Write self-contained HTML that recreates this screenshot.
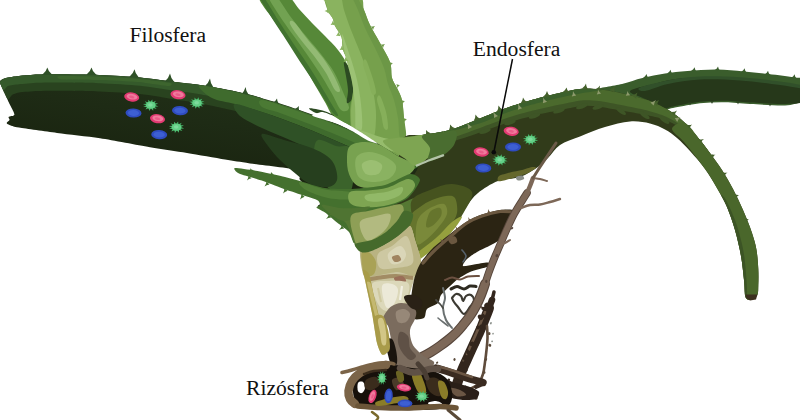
<!DOCTYPE html>
<html lang="es"><head><meta charset="utf-8"><title>Filosfera, Endosfera, Rizósfera</title>
<style>
html,body{margin:0;padding:0;background:#fff;}
body{width:800px;height:420px;overflow:hidden;position:relative;}
svg{display:block;position:absolute;left:0;top:0;}
.lbl{position:absolute;font-family:"Liberation Serif",serif;font-size:21.6px;line-height:22px;color:#111;white-space:nowrap;}
</style></head><body>
<svg width="800" height="420" viewBox="0 0 800 420">
<defs>
<linearGradient id="gl" gradientUnits="userSpaceOnUse" x1="150" y1="75" x2="138" y2="150"><stop offset="0" stop-color="#213017"/><stop offset="0.5" stop-color="#1e2b15"/><stop offset="1" stop-color="#1b2611"/></linearGradient>
</defs>

<path d="M596.0 90.0 C597.2 87.7 614.2 86.0 622.0 84.0 C629.8 82.0 635.3 79.7 642.5 78.0 C649.7 76.3 657.5 74.8 665.0 73.6 C672.5 72.4 678.9 71.7 687.5 71.0 C696.1 70.3 707.4 69.5 716.8 69.6 C726.2 69.7 735.2 70.7 743.8 71.4 C752.4 72.1 760.0 73.0 768.6 74.0 C777.2 75.0 789.4 76.7 795.6 77.6 C801.8 78.5 804.3 75.4 806.0 79.5 C807.7 83.6 807.0 98.2 806.0 102.0 C805.0 105.8 803.5 101.9 800.0 102.5 C796.5 103.1 793.3 105.2 785.0 105.5 C776.7 105.8 760.0 104.5 750.0 104.0 C740.0 103.5 733.3 102.4 725.0 102.3 C716.7 102.2 708.3 102.4 700.0 103.3 C691.7 104.2 681.7 106.4 675.0 107.5 C668.3 108.6 665.8 110.9 660.0 110.0 C654.2 109.1 647.5 104.0 640.0 102.0 C632.5 100.0 622.3 100.0 615.0 98.0 C607.7 96.0 594.8 92.3 596.0 90.0Z" fill="#3a5d2c" />
<path d="M630.0 91.0 C631.5 88.5 646.3 86.0 654.0 84.0 C661.7 82.0 666.7 80.1 676.0 79.0 C685.3 77.9 698.7 77.6 710.0 77.5 C721.3 77.4 732.7 77.4 744.0 78.5 C755.3 79.6 767.7 82.2 778.0 84.0 C788.3 85.8 801.3 86.2 806.0 89.0 C810.7 91.8 809.5 98.5 806.0 101.0 C802.5 103.5 794.3 103.8 785.0 104.0 C775.7 104.2 760.0 103.0 750.0 102.5 C740.0 102.0 733.3 100.9 725.0 100.8 C716.7 100.7 708.3 100.9 700.0 101.8 C691.7 102.7 681.5 104.9 675.0 106.0 C668.5 107.1 666.0 109.7 661.0 108.5 C656.0 107.3 650.2 101.9 645.0 99.0 C639.8 96.1 628.5 93.5 630.0 91.0Z" fill="#26381a" />
<path d="M640.0 87.5 C644.2 85.7 660.0 81.8 670.0 80.0 C680.0 78.2 688.3 77.0 700.0 76.5 C711.7 76.0 726.7 76.5 740.0 77.3 C753.3 78.1 769.0 80.0 780.0 81.5 C791.0 83.0 801.7 84.8 806.0 86.0 C810.3 87.2 810.3 89.2 806.0 89.0 C801.7 88.8 791.0 86.4 780.0 85.0 C769.0 83.6 753.3 81.4 740.0 80.5 C726.7 79.6 712.0 78.9 700.0 79.5 C688.0 80.1 677.2 82.1 668.0 84.0 C658.8 85.9 649.7 90.4 645.0 91.0 C640.3 91.6 635.8 89.3 640.0 87.5Z" fill="#31502a" />
<path d="M649.0 78.7 Q646.7 76.3 646.5 74.1 Q645.8 76.1 643.0 77.9 Z" fill="#3a5d2c"/>
<path d="M673.0 74.4 Q670.7 72.0 670.5 69.8 Q669.8 71.8 667.0 73.6 Z" fill="#3a5d2c"/>
<path d="M697.0 71.9 Q694.7 69.5 694.5 67.3 Q693.8 69.3 691.0 71.1 Z" fill="#3a5d2c"/>
<path d="M720.5 71.1 Q718.2 68.7 718.0 66.5 Q717.3 68.5 714.5 70.3 Z" fill="#3a5d2c"/>
<path d="M747.0 72.9 Q744.7 70.5 744.5 68.3 Q743.8 70.3 741.0 72.1 Z" fill="#3a5d2c"/>
<path d="M770.5 75.4 Q768.2 73.0 768.0 70.8 Q767.3 72.8 764.5 74.6 Z" fill="#3a5d2c"/>
<path d="M797.0 78.9 Q794.7 76.5 794.5 74.3 Q793.8 76.3 791.0 78.1 Z" fill="#3a5d2c"/>
<path d="M688.0 102.5 Q689.7 104.0 690.0 105.5 Q690.3 104.0 692.0 102.5 Z" fill="#2d4422"/>
<path d="M710.0 101.0 Q711.7 102.5 712.0 104.0 Q712.3 102.5 714.0 101.0 Z" fill="#2d4422"/>
<path d="M736.0 101.5 Q737.7 103.0 738.0 104.5 Q738.3 103.0 740.0 101.5 Z" fill="#2d4422"/>
<path d="M768.0 103.5 Q769.7 105.0 770.0 106.5 Q770.3 105.0 772.0 103.5 Z" fill="#2d4422"/>
<path d="M259.0 -4.0 C257.1 0.3 269.8 14.0 275.0 22.0 C280.2 30.0 285.2 36.7 290.0 44.0 C294.8 51.3 299.8 59.0 304.0 66.0 C308.2 73.0 311.9 79.8 315.5 86.0 C319.1 92.2 322.8 98.2 325.5 103.0 C328.2 107.8 329.6 112.1 332.0 115.0 C334.4 117.9 336.7 118.5 340.0 120.5 C343.3 122.5 347.5 124.4 352.0 127.0 C356.5 129.6 362.8 133.3 367.0 136.0 C371.2 138.7 372.8 145.7 377.0 143.0 C381.2 140.3 394.8 127.2 392.0 120.0 C389.2 112.8 366.5 105.7 360.0 100.0 C353.5 94.3 355.0 91.7 353.0 86.0 C351.0 80.3 350.5 72.0 348.0 66.0 C345.5 60.0 341.8 55.0 338.0 50.0 C334.2 45.0 329.3 40.5 325.0 36.0 C320.7 31.5 316.3 27.5 312.0 23.0 C307.7 18.5 303.2 13.5 299.0 9.0 C294.8 4.5 293.2 -1.8 286.5 -4.0 C279.8 -6.2 260.9 -8.3 259.0 -4.0Z" fill="#568838" />
<path d="M263.0 -4.0 C266.2 0.0 273.0 12.2 278.0 20.0 C283.0 27.8 288.0 35.5 293.0 43.0 C298.0 50.5 303.3 57.8 308.0 65.0 C312.7 72.2 317.2 79.7 321.0 86.0 C324.8 92.3 328.2 98.2 331.0 103.0 C333.8 107.8 337.7 113.3 338.0 115.0 C338.3 116.7 335.5 116.0 333.0 113.0 C330.5 110.0 326.7 102.8 323.0 97.0 C319.3 91.2 315.3 84.7 311.0 78.0 C306.7 71.3 301.7 64.2 297.0 57.0 C292.3 49.8 287.8 42.5 283.0 35.0 C278.2 27.5 272.0 18.5 268.0 12.0 C264.0 5.5 259.8 -1.3 259.0 -4.0 C258.2 -6.7 259.8 -8.0 263.0 -4.0Z" fill="#41722f" />
<path d="M276.0 -4.0 C279.7 -0.7 285.0 9.3 290.0 16.0 C295.0 22.7 300.8 29.7 306.0 36.0 C311.2 42.3 316.3 48.0 321.0 54.0 C325.7 60.0 330.3 65.7 334.0 72.0 C337.7 78.3 340.5 86.0 343.0 92.0 C345.5 98.0 349.3 105.0 349.0 108.0 C348.7 111.0 344.0 112.7 341.0 110.0 C338.0 107.3 334.7 98.3 331.0 92.0 C327.3 85.7 323.2 78.5 319.0 72.0 C314.8 65.5 310.3 59.2 306.0 53.0 C301.7 46.8 297.5 41.3 293.0 35.0 C288.5 28.7 283.2 21.5 279.0 15.0 C274.8 8.5 268.5 -0.8 268.0 -4.0 C267.5 -7.2 272.3 -7.3 276.0 -4.0Z" fill="#72a252" />
<path d="M294.0 22.0 C297.0 24.7 303.2 34.0 308.0 40.0 C312.8 46.0 318.8 52.3 323.0 58.0 C327.2 63.7 330.2 68.7 333.0 74.0 C335.8 79.3 339.7 87.3 340.0 90.0 C340.3 92.7 337.3 92.8 335.0 90.0 C332.7 87.2 329.5 78.7 326.0 73.0 C322.5 67.3 318.2 61.5 314.0 56.0 C309.8 50.5 305.0 45.3 301.0 40.0 C297.0 34.7 291.2 27.0 290.0 24.0 C288.8 21.0 291.0 19.3 294.0 22.0Z" fill="#93ba74" />
<path d="M344.0 62.0 C344.8 61.0 349.2 66.3 351.0 70.0 C352.8 73.7 354.1 79.5 354.5 84.0 C354.9 88.5 354.8 93.8 353.5 97.0 C352.2 100.2 347.9 104.2 347.0 103.0 C346.1 101.8 348.2 94.5 348.0 90.0 C347.8 85.5 346.7 80.7 346.0 76.0 C345.3 71.3 343.2 63.0 344.0 62.0Z" fill="#2c4a22" />
<path d="M309.0 108.5 C309.3 107.9 315.0 108.9 318.0 109.5 C321.0 110.1 324.3 111.0 327.0 112.0 C329.7 113.0 334.2 115.0 334.0 115.5 C333.8 116.0 329.0 115.4 326.0 115.0 C323.0 114.6 318.8 114.1 316.0 113.0 C313.2 111.9 308.7 109.1 309.0 108.5Z" fill="#2c4a22" />
<path d="M327.0 -4.0 C321.8 -1.7 326.6 6.3 327.5 10.0 C328.4 13.7 331.2 15.3 332.5 18.0 C333.8 20.7 333.5 22.8 335.0 26.0 C336.5 29.2 340.2 33.0 341.5 37.0 C342.8 41.0 341.8 45.8 343.0 50.0 C344.2 54.2 347.0 57.7 348.5 62.0 C350.0 66.3 351.2 71.0 352.0 76.0 C352.8 81.0 353.3 86.3 353.0 92.0 C352.7 97.7 350.2 102.8 350.0 110.0 C349.8 117.2 350.3 126.7 352.0 135.0 C353.7 143.3 354.5 154.5 360.0 160.0 C365.5 165.5 376.3 168.0 385.0 168.0 C393.7 168.0 408.5 165.3 412.0 160.0 C415.5 154.7 407.3 143.0 406.0 136.0 C404.7 129.0 404.7 124.0 404.0 118.0 C403.3 112.0 403.2 105.0 402.0 100.0 C400.8 95.0 398.7 91.7 397.0 88.0 C395.3 84.3 393.2 82.3 392.0 78.0 C390.8 73.7 392.0 67.8 390.0 62.0 C388.0 56.2 383.3 49.2 380.0 43.0 C376.7 36.8 372.7 30.5 370.0 25.0 C367.3 19.5 365.8 14.8 364.0 10.0 C362.2 5.2 365.2 -1.7 359.0 -4.0 C352.8 -6.3 332.2 -6.3 327.0 -4.0Z" fill="#76a04c" />
<path d="M327.0 -4.0 C324.9 -1.7 326.6 6.3 327.5 10.0 C328.4 13.7 331.2 15.3 332.5 18.0 C333.8 20.7 333.5 22.8 335.0 26.0 C336.5 29.2 340.2 33.0 341.5 37.0 C342.8 41.0 341.8 45.8 343.0 50.0 C344.2 54.2 347.0 57.7 348.5 62.0 C350.0 66.3 351.2 71.0 352.0 76.0 C352.8 81.0 353.2 86.0 353.0 92.0 C352.8 98.0 350.8 104.7 351.0 112.0 C351.2 119.3 350.5 131.3 354.0 136.0 C357.5 140.7 368.3 143.0 372.0 140.0 C375.7 137.0 375.7 125.3 376.0 118.0 C376.3 110.7 375.3 103.3 374.0 96.0 C372.7 88.7 370.3 81.3 368.0 74.0 C365.7 66.7 362.8 59.3 360.0 52.0 C357.2 44.7 353.7 37.0 351.0 30.0 C348.3 23.0 345.8 15.7 344.0 10.0 C342.2 4.3 342.8 -1.7 340.0 -4.0 C337.2 -6.3 329.1 -6.3 327.0 -4.0Z" fill="#8ab35f" />
<path d="M342.0 34.0 C342.7 33.7 347.5 48.3 350.0 56.0 C352.5 63.7 355.2 72.0 357.0 80.0 C358.8 88.0 360.2 96.0 361.0 104.0 C361.8 112.0 362.8 123.3 362.0 128.0 C361.2 132.7 357.2 135.7 356.0 132.0 C354.8 128.3 355.7 114.3 355.0 106.0 C354.3 97.7 353.5 90.0 352.0 82.0 C350.5 74.0 347.7 66.0 346.0 58.0 C344.3 50.0 341.3 34.3 342.0 34.0Z" fill="#9cc274" />
<path d="M356.0 -4.0 C358.0 -1.7 361.7 5.2 364.0 10.0 C366.3 14.8 367.3 19.5 370.0 25.0 C372.7 30.5 376.7 36.8 380.0 43.0 C383.3 49.2 388.0 56.2 390.0 62.0 C392.0 67.8 390.8 73.7 392.0 78.0 C393.2 82.3 395.3 84.3 397.0 88.0 C398.7 91.7 400.8 95.0 402.0 100.0 C403.2 105.0 403.3 112.0 404.0 118.0 C404.7 124.0 406.7 132.7 406.0 136.0 C405.3 139.3 401.3 141.0 400.0 138.0 C398.7 135.0 399.0 124.3 398.0 118.0 C397.0 111.7 395.7 105.7 394.0 100.0 C392.3 94.3 389.7 89.3 388.0 84.0 C386.3 78.7 386.2 74.0 384.0 68.0 C381.8 62.0 378.2 54.7 375.0 48.0 C371.8 41.3 367.8 34.3 365.0 28.0 C362.2 21.7 360.2 15.3 358.0 10.0 C355.8 4.7 352.3 -1.7 352.0 -4.0 C351.7 -6.3 354.0 -6.3 356.0 -4.0Z" fill="#6c9746" />
<path d="M366.0 60.0 C367.5 62.0 370.3 70.7 372.0 76.0 C373.7 81.3 376.0 89.0 376.0 92.0 C376.0 95.0 373.3 96.0 372.0 94.0 C370.7 92.0 369.5 85.0 368.0 80.0 C366.5 75.0 363.3 67.3 363.0 64.0 C362.7 60.7 364.5 58.0 366.0 60.0Z" fill="#86af5a" />
<path d="M380.0 96.0 C381.5 98.0 384.7 106.7 386.0 112.0 C387.3 117.3 388.3 125.3 388.0 128.0 C387.7 130.7 385.2 130.3 384.0 128.0 C382.8 125.7 382.2 118.7 381.0 114.0 C379.8 109.3 377.2 103.0 377.0 100.0 C376.8 97.0 378.5 94.0 380.0 96.0Z" fill="#86af5a" />
<path d="M328.6 -0.2 Q325.7 0.7 323.5 0.0 Q325.3 1.3 326.4 4.2 Z" fill="#8ab35f"/>
<path d="M328.5 8.5 Q326.5 10.6 324.5 11.0 Q326.5 11.4 328.5 13.5 Z" fill="#8ab35f"/>
<path d="M332.8 20.8 Q332.1 23.7 330.5 25.0 Q332.4 24.3 335.2 25.2 Z" fill="#8ab35f"/>
<path d="M338.3 31.8 Q337.6 34.7 336.0 36.0 Q337.9 35.3 340.7 36.2 Z" fill="#8ab35f"/>
<path d="M341.8 45.8 Q341.1 48.7 339.5 50.0 Q341.4 49.3 344.2 50.2 Z" fill="#8ab35f"/>
<path d="M345.4 57.1 Q345.0 60.2 343.5 62.0 Q345.5 60.8 348.6 60.9 Z" fill="#8ab35f"/>
<path d="M373.1 29.7 Q373.7 27.2 375.0 26.0 Q373.3 26.8 370.9 26.3 Z" fill="#6c9746"/>
<path d="M383.1 47.7 Q383.7 45.2 385.0 44.0 Q383.3 44.8 380.9 44.3 Z" fill="#6c9746"/>
<path d="M390.6 65.9 Q391.6 63.8 393.0 63.0 Q391.4 63.2 389.4 62.1 Z" fill="#6c9746"/>
<path d="M397.6 87.9 Q398.6 85.8 400.0 85.0 Q398.4 85.2 396.4 84.1 Z" fill="#6c9746"/>
<path d="M402.6 103.9 Q403.6 101.8 405.0 101.0 Q403.4 101.2 401.4 100.1 Z" fill="#6c9746"/>
<path d="M404.6 121.9 Q405.6 119.8 407.0 119.0 Q405.4 119.2 403.4 118.1 Z" fill="#6c9746"/>
<path d="M352.0 128.0 C352.7 126.7 360.7 130.3 366.0 132.0 C371.3 133.7 378.7 136.7 384.0 138.0 C389.3 139.3 394.3 140.0 398.0 140.0 C401.7 140.0 404.3 136.3 406.0 138.0 C407.7 139.7 409.7 147.7 408.0 150.0 C406.3 152.3 401.0 152.7 396.0 152.0 C391.0 151.3 383.7 148.0 378.0 146.0 C372.3 144.0 366.3 143.0 362.0 140.0 C357.7 137.0 351.3 129.3 352.0 128.0Z" fill="#96bc6c" />
<path d="M404.0 137.5 C408.0 133.3 414.3 136.2 422.0 135.0 C429.7 133.8 440.3 132.8 450.0 130.0 C459.7 127.2 470.8 122.1 480.0 118.5 C489.2 114.9 496.7 111.5 505.0 108.5 C513.3 105.5 521.7 102.9 530.0 100.5 C538.3 98.1 546.7 95.9 555.0 94.0 C563.3 92.1 572.5 89.8 580.0 89.0 C587.5 88.2 592.5 88.7 600.0 89.5 C607.5 90.3 616.7 92.1 625.0 94.0 C633.3 95.9 642.5 98.2 650.0 101.0 C657.5 103.8 664.2 107.3 670.0 111.0 C675.8 114.7 680.0 118.2 685.0 123.0 C690.0 127.8 695.8 135.0 700.0 140.0 C704.2 145.0 706.3 148.0 710.0 153.0 C713.7 158.0 718.2 164.0 722.0 170.0 C725.8 176.0 729.5 182.3 733.0 189.0 C736.5 195.7 739.8 202.7 743.0 210.0 C746.2 217.3 749.8 226.3 752.0 233.0 C754.2 239.7 755.5 244.0 756.5 250.0 C757.5 256.0 758.0 263.2 758.3 269.0 C758.6 274.8 758.5 280.7 758.3 285.0 C758.1 289.3 758.5 292.5 757.3 295.0 C756.1 297.5 753.0 299.7 751.0 300.0 C749.0 300.3 746.7 300.3 745.5 297.0 C744.3 293.7 744.8 286.8 744.0 280.0 C743.2 273.2 742.5 264.3 741.0 256.0 C739.5 247.7 737.3 238.2 735.0 230.0 C732.7 221.8 730.0 214.0 727.0 207.0 C724.0 200.0 720.7 194.3 717.0 188.0 C713.3 181.7 709.5 175.2 705.0 169.0 C700.5 162.8 694.7 156.2 690.0 151.0 C685.3 145.8 681.2 141.6 677.0 138.0 C672.8 134.4 669.5 131.9 665.0 129.5 C660.5 127.1 655.8 124.8 650.0 123.5 C644.2 122.2 637.5 120.9 630.0 121.5 C622.5 122.1 613.3 124.5 605.0 127.0 C596.7 129.5 587.5 133.5 580.0 136.5 C572.5 139.5 565.3 141.4 560.0 145.0 C554.7 148.6 551.7 154.3 548.0 158.0 C544.3 161.7 542.7 163.8 538.0 167.0 C533.3 170.2 526.7 174.7 520.0 177.0 C513.3 179.3 505.0 178.3 498.0 181.0 C491.0 183.7 483.3 188.7 478.0 193.0 C472.7 197.3 469.3 202.5 466.0 207.0 C462.7 211.5 461.5 215.3 458.0 220.0 C454.5 224.7 449.7 230.0 445.0 235.0 C440.3 240.0 435.3 245.3 430.0 250.0 C424.7 254.7 418.8 261.0 413.0 263.0 C407.2 265.0 399.7 267.5 395.0 262.0 C390.3 256.5 385.8 242.0 385.0 230.0 C384.2 218.0 387.8 201.7 390.0 190.0 C392.2 178.3 395.7 168.8 398.0 160.0 C400.3 151.2 400.0 141.7 404.0 137.5Z" fill="#313b1a" />
<path d="M404.0 137.5 C406.2 135.9 415.9 136.0 422.0 135.0 C428.1 134.0 442.3 132.2 450.0 130.0 C457.7 127.8 472.7 121.4 480.0 118.5 C487.3 115.6 498.3 110.9 505.0 108.5 C511.7 106.1 523.3 102.4 530.0 100.5 C536.7 98.6 548.3 95.5 555.0 94.0 C561.7 92.5 574.0 89.6 580.0 89.0 C586.0 88.4 594.0 88.8 600.0 89.5 C606.0 90.2 618.3 92.5 625.0 94.0 C631.7 95.5 644.0 98.7 650.0 101.0 C656.0 103.3 665.3 108.1 670.0 111.0 C674.7 113.9 681.0 119.1 685.0 123.0 C689.0 126.9 696.4 135.6 700.0 140.0 C703.6 144.4 710.5 153.8 712.0 156.0 C713.5 158.2 713.4 158.3 711.5 156.4 C709.5 154.6 701.5 146.0 697.4 142.2 C693.2 138.4 684.6 130.9 680.3 127.9 C675.9 124.9 669.3 121.4 664.6 119.6 C659.8 117.9 650.6 116.0 644.8 114.8 C639.0 113.6 627.4 111.7 621.2 110.6 C615.0 109.4 603.4 107.0 598.1 106.4 C592.9 105.8 586.9 105.4 581.7 105.9 C576.4 106.4 565.1 109.1 558.8 110.3 C552.4 111.6 540.8 113.9 534.3 115.4 C527.8 117.0 516.5 119.9 509.8 122.0 C503.2 124.0 492.3 128.1 484.8 130.7 C477.2 133.2 461.3 139.2 453.2 141.2 C445.0 143.1 430.0 144.4 423.6 145.1 C417.3 145.8 407.9 147.8 405.3 146.8 C402.7 145.7 401.8 139.1 404.0 137.5Z" fill="#3e5526" />
<path d="M404.0 137.5 C406.3 136.3 415.9 136.0 422.0 135.0 C428.1 134.0 442.3 132.2 450.0 130.0 C457.7 127.8 472.7 121.4 480.0 118.5 C487.3 115.6 498.3 110.9 505.0 108.5 C511.7 106.1 523.3 102.4 530.0 100.5 C536.7 98.6 548.3 95.5 555.0 94.0 C561.7 92.5 574.0 89.6 580.0 89.0 C586.0 88.4 594.0 88.8 600.0 89.5 C606.0 90.2 618.3 92.5 625.0 94.0 C631.7 95.5 644.0 98.7 650.0 101.0 C656.0 103.3 665.3 108.1 670.0 111.0 C674.7 113.9 681.0 119.1 685.0 123.0 C689.0 126.9 696.4 135.6 700.0 140.0 C703.6 144.4 710.4 153.8 712.0 156.0 C713.6 158.2 713.5 158.2 711.6 156.3 C709.8 154.3 702.2 145.5 698.2 141.5 C694.2 137.5 686.1 129.6 681.8 126.3 C677.6 123.0 671.0 119.0 666.3 116.8 C661.6 114.7 652.3 111.9 646.5 110.3 C640.6 108.8 628.8 106.5 622.4 105.2 C616.1 104.0 604.2 101.6 598.7 100.9 C593.2 100.3 586.6 99.9 581.1 100.4 C575.7 101.0 564.0 103.7 557.5 105.0 C551.1 106.4 539.5 108.9 532.9 110.6 C526.4 112.3 514.9 115.5 508.3 117.6 C501.6 119.8 490.7 124.1 483.2 126.7 C475.7 129.4 460.2 135.5 452.1 137.6 C444.1 139.6 429.4 141.0 423.1 141.8 C416.8 142.7 407.4 144.3 404.9 143.8 C402.3 143.2 401.7 138.7 404.0 137.5Z" fill="#4b6a2d" />
<path d="M404.0 137.5 C406.4 137.2 415.9 136.0 422.0 135.0 C428.1 134.0 442.3 132.2 450.0 130.0 C457.7 127.8 472.7 121.4 480.0 118.5 C487.3 115.6 498.3 110.9 505.0 108.5 C511.7 106.1 523.3 102.4 530.0 100.5 C536.7 98.6 548.3 95.5 555.0 94.0 C561.7 92.5 574.0 89.6 580.0 89.0 C586.0 88.4 597.3 89.3 600.0 89.5 C602.7 89.7 602.5 90.1 599.9 90.6 C597.3 91.1 586.3 92.4 580.4 93.5 C574.6 94.5 562.6 96.9 556.0 98.4 C549.4 99.9 537.9 102.9 531.3 104.8 C524.7 106.7 513.1 110.4 506.5 112.7 C499.9 115.1 489.1 120.2 481.6 122.7 C474.1 125.1 458.3 129.4 450.3 131.1 C442.4 132.7 428.2 134.1 422.0 135.0 C415.8 135.9 406.4 137.2 404.0 137.5 C401.6 137.8 401.6 137.8 404.0 137.5Z" fill="#3b602c" />
<ellipse cx="484.8" cy="131.2" rx="6" ry="2.2" fill="#3e5526" transform="rotate(-18 484.8 130.7)"/>
<ellipse cx="509.8" cy="122.5" rx="6" ry="2.2" fill="#3e5526" transform="rotate(-18 509.8 122.0)"/>
<ellipse cx="534.3" cy="115.9" rx="6" ry="2.2" fill="#3e5526" transform="rotate(-18 534.3 115.4)"/>
<ellipse cx="558.8" cy="110.8" rx="6" ry="2.2" fill="#3e5526" transform="rotate(-18 558.8 110.3)"/>
<ellipse cx="581.7" cy="106.4" rx="6" ry="2.2" fill="#3e5526" transform="rotate(-18 581.7 105.9)"/>
<ellipse cx="598.1" cy="106.9" rx="6" ry="2.2" fill="#3e5526" transform="rotate(-18 598.1 106.4)"/>
<ellipse cx="621.2" cy="111.1" rx="6" ry="2.2" fill="#3e5526" transform="rotate(35 621.2 110.6)"/>
<ellipse cx="644.8" cy="115.3" rx="6" ry="2.2" fill="#3e5526" transform="rotate(35 644.8 114.8)"/>
<ellipse cx="664.6" cy="120.1" rx="6" ry="2.2" fill="#3e5526" transform="rotate(35 664.6 119.6)"/>
<ellipse cx="680.3" cy="128.4" rx="6" ry="2.2" fill="#3e5526" transform="rotate(35 680.3 127.9)"/>
<path d="M685.0 123.0 C689.7 124.8 695.5 134.5 700.0 140.0 C704.5 145.5 708.3 151.0 712.0 156.0 C715.7 161.0 718.5 164.5 722.0 170.0 C725.5 175.5 729.5 182.3 733.0 189.0 C736.5 195.7 739.8 202.7 743.0 210.0 C746.2 217.3 749.8 226.3 752.0 233.0 C754.2 239.7 755.5 244.0 756.5 250.0 C757.5 256.0 758.0 263.2 758.3 269.0 C758.6 274.8 758.5 280.7 758.3 285.0 C758.1 289.3 758.5 292.5 757.3 295.0 C756.1 297.5 753.0 299.7 751.0 300.0 C749.0 300.3 746.7 300.3 745.5 297.0 C744.3 293.7 744.8 286.8 744.0 280.0 C743.2 273.2 742.5 264.3 741.0 256.0 C739.5 247.7 737.3 238.2 735.0 230.0 C732.7 221.8 729.8 213.7 727.0 207.0 C724.2 200.3 721.2 195.7 718.0 190.0 C714.8 184.3 711.7 178.5 708.0 173.0 C704.3 167.5 700.0 162.2 696.0 157.0 C692.0 151.8 688.0 146.7 684.0 142.0 C680.0 137.3 671.8 132.2 672.0 129.0 C672.2 125.8 680.3 121.2 685.0 123.0Z" fill="#4a672b" />
<path d="M726.0 200.0 C728.3 204.2 732.5 213.3 735.0 220.0 C737.5 226.7 739.4 233.7 741.0 240.0 C742.6 246.3 743.6 251.3 744.5 258.0 C745.4 264.7 746.1 274.0 746.5 280.0 C746.9 286.0 747.2 291.2 747.0 294.0 C746.8 296.8 746.0 299.3 745.5 297.0 C745.0 294.7 744.8 286.8 744.0 280.0 C743.2 273.2 742.5 264.3 741.0 256.0 C739.5 247.7 737.3 238.2 735.0 230.0 C732.7 221.8 729.3 212.8 727.0 207.0 C724.7 201.2 721.2 196.2 721.0 195.0 C720.8 193.8 723.7 195.8 726.0 200.0Z" fill="#3c5425" />
<polygon points="745.5,294.5 757.4,294.5 756.0,299.5 750.0,300.6 746.0,298.0" fill="#3b2f1e" />
<path d="M430.7 133.3 Q427.4 132.1 426.0 130.0 Q426.6 132.4 425.3 135.7 Z" fill="#44602b"/>
<path d="M455.2 128.2 Q451.5 126.8 450.0 124.5 Q450.5 127.2 448.8 130.8 Z" fill="#44602b"/>
<path d="M480.4 119.1 Q476.8 117.1 475.5 114.5 Q475.7 117.4 473.6 120.9 Z" fill="#44602b"/>
<path d="M503.4 110.1 Q499.8 108.1 498.5 105.5 Q498.7 108.4 496.6 111.9 Z" fill="#44602b"/>
<path d="M527.4 102.4 Q524.0 100.2 523.0 97.5 Q523.0 100.3 520.6 103.6 Z" fill="#44602b"/>
<path d="M550.5 96.5 Q547.5 93.8 547.0 91.0 Q546.5 93.8 543.5 96.5 Z" fill="#44602b"/>
<path d="M569.5 92.8 Q566.8 90.1 566.5 87.5 Q565.7 89.9 562.5 92.2 Z" fill="#44602b"/>
<path d="M588.0 89.5 Q585.9 86.3 586.0 83.5 Q585.1 86.2 582.0 88.5 Z" fill="#44602b"/>
<path d="M600.3 91.0 Q599.3 87.9 600.0 85.5 Q598.7 87.6 595.7 89.0 Z" fill="#44602b"/>
<path d="M614.6 92.5 Q613.9 88.7 615.0 86.0 Q613.1 88.3 609.4 89.5 Z" fill="#44602b"/>
<path d="M636.4 98.8 Q636.1 95.0 637.5 92.5 Q635.4 94.5 631.6 95.2 Z" fill="#44602b"/>
<path d="M657.1 106.1 Q657.3 102.3 659.0 100.0 Q656.7 101.7 652.9 101.9 Z" fill="#44602b"/>
<path d="M674.6 115.9 Q675.2 112.5 677.0 110.5 Q674.8 112.0 671.4 112.1 Z" fill="#44602b"/>
<path d="M689.3 129.1 Q690.2 126.1 692.0 124.5 Q689.8 125.4 686.7 124.9 Z" fill="#44602b"/>
<path d="M700.9 142.8 Q702.1 140.3 704.0 139.0 Q701.9 139.7 699.1 139.2 Z" fill="#44602b"/>
<path d="M712.8 157.8 Q713.9 155.5 715.5 154.5 Q713.6 155.0 711.2 154.2 Z" fill="#44602b"/>
<path d="M724.7 175.6 Q725.9 173.5 727.5 172.5 Q725.6 173.0 723.3 172.4 Z" fill="#44602b"/>
<path d="M736.5 197.4 Q737.6 195.7 739.0 195.0 Q737.4 195.3 735.5 194.6 Z" fill="#44602b"/>
<path d="M746.3 221.5 Q747.6 219.9 749.0 219.3 Q747.4 219.4 745.7 218.5 Z" fill="#44602b"/>
<path d="M447.9 134.8 Q444.8 133.3 443.0 131.0 Q444.2 133.7 444.1 137.2 Z" fill="#8d9a6c"/>
<path d="M472.0 126.9 Q468.8 125.1 467.0 122.5 Q468.2 125.4 468.0 129.1 Z" fill="#8d9a6c"/>
<path d="M498.0 115.9 Q494.8 114.1 493.0 111.5 Q494.2 114.4 494.0 118.1 Z" fill="#8d9a6c"/>
<path d="M522.1 108.2 Q519.3 106.1 518.0 103.5 Q518.7 106.4 517.9 109.8 Z" fill="#8d9a6c"/>
<path d="M547.1 101.7 Q544.3 99.9 543.0 97.5 Q543.7 100.1 542.9 103.3 Z" fill="#8d9a6c"/>
<path d="M576.2 95.6 Q573.8 93.4 573.0 91.0 Q573.2 93.6 571.8 96.4 Z" fill="#8d9a6c"/>
<path d="M601.2 93.5 Q598.8 91.7 598.0 89.5 Q598.2 91.8 596.8 94.5 Z" fill="#8d9a6c"/>
<path d="M630.2 95.3 Q628.1 93.2 627.5 91.0 Q627.4 93.3 625.8 95.7 Z" fill="#8d9a6c"/>
<path d="M653.6 105.6 Q654.2 102.2 656.0 100.0 Q653.8 101.8 650.4 102.4 Z" fill="#8d9a6c"/>
<path d="M677.2 121.9 Q678.4 118.8 680.5 117.0 Q678.1 118.2 674.8 118.1 Z" fill="#8d9a6c"/>
<path d="M499.0 176.0 C500.6 174.9 506.9 173.3 510.0 172.5 C513.1 171.7 519.1 170.7 522.0 170.0 C524.9 169.3 530.1 167.3 532.0 167.0 C533.9 166.7 536.5 167.2 536.0 168.0 C535.5 168.8 530.7 171.8 528.0 173.0 C525.3 174.2 519.2 176.0 516.0 177.0 C512.8 178.0 506.4 180.0 504.0 180.5 C501.6 181.0 498.7 181.6 498.0 181.0 C497.3 180.4 497.4 177.1 499.0 176.0Z" fill="#65682c" />
<path d="M516.0 177.0 C516.7 176.2 520.7 175.2 522.0 175.5 C523.3 175.8 524.7 178.2 524.0 179.0 C523.3 179.8 519.3 180.8 518.0 180.5 C516.7 180.2 515.3 177.8 516.0 177.0Z" fill="#8a8f88" />
<path d="M0.0 82.0 C0.3 80.3 3.5 78.8 6.0 78.0 C8.5 77.2 14.7 76.5 19.0 76.0 C23.3 75.5 32.5 74.7 38.0 74.5 C43.5 74.3 51.7 74.2 60.0 74.3 C68.3 74.4 89.3 74.6 100.0 75.0 C110.7 75.4 130.0 76.6 140.0 77.5 C150.0 78.4 167.0 81.0 175.0 82.0 C183.0 83.0 191.6 83.7 200.0 85.0 C208.4 86.3 228.0 89.7 238.0 92.0 C248.0 94.3 266.1 99.3 275.0 102.0 C283.9 104.7 296.3 108.9 305.0 112.0 C313.7 115.1 330.7 121.0 340.0 125.0 C349.3 129.0 367.3 137.9 375.0 142.0 C382.7 146.1 392.3 152.8 398.0 156.0 C403.7 159.2 417.1 162.1 418.0 166.0 C418.9 169.9 410.1 180.5 405.0 185.0 C399.9 189.5 387.1 196.7 380.0 200.0 C372.9 203.3 358.0 208.1 352.0 210.0 C346.0 211.9 339.5 214.4 335.0 214.0 C330.5 213.6 319.7 208.9 318.0 207.0 C316.3 205.1 324.4 203.6 322.0 200.0 C319.6 196.4 302.9 183.9 300.0 180.0 C297.1 176.1 306.7 172.7 300.0 170.5 C293.3 168.3 260.0 164.9 250.0 163.4 C240.0 161.9 233.4 160.9 225.0 159.5 C216.6 158.1 197.0 154.6 187.0 153.0 C177.0 151.4 161.6 149.3 150.0 147.3 C138.4 145.3 112.4 140.2 100.0 138.3 C87.6 136.4 67.8 134.4 57.0 133.0 C46.2 131.6 25.1 128.6 19.0 127.6 C12.9 126.6 13.0 126.3 11.4 125.7 C9.8 125.1 7.0 124.0 6.7 123.2 C6.4 122.4 9.2 120.8 9.5 120.0 C9.8 119.2 8.0 117.7 8.6 117.0 C9.2 116.3 13.8 116.0 14.3 115.0 C14.8 114.0 13.2 111.2 12.4 109.5 C11.6 107.8 9.7 104.5 8.6 102.0 C7.5 99.5 4.9 93.2 3.8 90.5 C2.7 87.8 -0.3 83.7 0.0 82.0Z" fill="url(#gl)" />
<path d="M0.0 82.0 C-0.2 79.5 3.8 78.7 6.0 78.0 C8.2 77.3 15.3 76.4 19.0 76.0 C22.7 75.6 33.2 74.7 38.0 74.5 C42.8 74.3 52.8 74.2 60.0 74.3 C67.2 74.4 90.7 74.6 100.0 75.0 C109.3 75.4 131.2 76.7 140.0 77.5 C148.8 78.3 168.0 81.1 175.0 82.0 C182.0 82.9 192.7 83.8 200.0 85.0 C207.3 86.2 230.8 90.4 238.0 92.0 C245.2 93.6 258.3 96.4 262.0 98.5 C265.7 100.6 268.8 107.0 270.0 110.0 C271.2 113.0 272.9 122.9 272.0 124.0 C271.1 125.1 266.0 120.5 262.0 119.0 C258.0 117.6 245.2 113.5 238.0 111.7 C230.8 109.8 207.3 104.7 200.0 103.3 C192.7 101.9 182.0 100.5 175.0 99.4 C168.0 98.3 148.8 94.9 140.0 94.0 C131.2 93.1 109.3 91.9 100.0 91.5 C90.7 91.1 67.2 90.9 60.0 90.8 C52.8 90.7 42.8 90.8 38.0 91.0 C33.2 91.2 22.0 92.0 19.0 92.5 C16.0 93.0 13.3 94.2 12.0 95.0 C10.7 95.8 8.9 100.5 7.5 99.0 C6.1 97.5 0.2 84.5 0.0 82.0Z" fill="#29431f" />
<path d="M0.0 82.0 C0.3 80.6 3.8 78.7 6.0 78.0 C8.2 77.3 15.3 76.4 19.0 76.0 C22.7 75.6 33.2 74.7 38.0 74.5 C42.8 74.3 52.8 74.2 60.0 74.3 C67.2 74.4 90.7 74.6 100.0 75.0 C109.3 75.4 131.2 76.7 140.0 77.5 C148.8 78.3 168.0 81.1 175.0 82.0 C182.0 82.9 192.7 83.8 200.0 85.0 C207.3 86.2 230.8 90.4 238.0 92.0 C245.2 93.6 258.5 96.9 262.0 98.5 C265.5 100.1 268.0 104.8 268.0 106.0 C268.0 107.2 265.5 109.3 262.0 108.8 C258.5 108.3 245.2 103.6 238.0 101.9 C230.8 100.2 207.3 95.5 200.0 94.2 C192.7 92.9 182.0 91.7 175.0 90.8 C168.0 89.8 148.8 86.7 140.0 85.8 C131.2 84.9 109.3 83.7 100.0 83.3 C90.7 82.9 67.2 82.7 60.0 82.6 C52.8 82.5 42.8 82.6 38.0 82.8 C33.2 83.0 22.5 83.9 19.0 84.3 C15.5 84.7 9.8 85.3 8.0 86.0 C6.2 86.7 4.5 90.5 3.6 90.0 C2.7 89.5 -0.3 83.4 0.0 82.0Z" fill="#355a2b" />
<path d="M60.0 76.0 C64.4 75.7 90.7 76.2 100.0 76.5 C109.3 76.8 131.8 78.2 140.0 79.0 C148.2 79.8 166.7 82.2 170.0 83.0 C173.3 83.8 171.7 86.1 168.0 86.0 C164.3 85.9 145.9 82.7 138.0 82.0 C130.1 81.3 108.9 80.3 100.0 80.0 C91.1 79.7 66.7 80.0 62.0 79.5 C57.3 79.0 55.6 76.3 60.0 76.0Z" fill="#3d652e" />
<path d="M52.5 75.0 Q48.1 71.2 47.3 67.4 Q46.5 71.2 42.0 75.0 Z" fill="#2f5127"/>
<path d="M96.5 75.1 Q92.2 71.2 91.5 67.4 Q90.6 71.2 86.1 74.9 Z" fill="#2f5127"/>
<path d="M139.0 77.8 Q135.0 73.4 134.5 69.3 Q133.5 73.4 129.0 77.2 Z" fill="#2f5127"/>
<path d="M174.5 82.3 Q170.5 77.8 170.0 73.5 Q169.0 77.7 164.5 81.7 Z" fill="#2f5127"/>
<path d="M213.5 87.5 Q210.2 82.8 210.0 78.5 Q208.8 82.7 204.5 86.5 Z" fill="#2f5127"/>
<path d="M249.0 95.2 Q245.8 91.0 245.5 87.0 Q244.7 91.0 241.0 94.8 Z" fill="#2f5127"/>
<path d="M278.9 103.7 Q276.9 100.8 277.0 98.5 Q276.1 100.7 273.1 102.3 Z" fill="#2f5127"/>
<path d="M299.2 111.1 Q298.3 108.2 299.0 106.0 Q297.7 107.8 294.8 108.9 Z" fill="#2f5127"/>
<path d="M200.0 85.5 C204.3 84.6 225.5 89.7 238.0 92.5 C250.5 95.3 263.8 99.2 275.0 102.5 C286.2 105.8 294.2 108.7 305.0 112.5 C315.8 116.3 328.3 120.5 340.0 125.5 C351.7 130.5 365.3 137.3 375.0 142.5 C384.7 147.7 390.8 152.6 398.0 156.5 C405.2 160.4 417.0 163.8 418.0 166.0 C419.0 168.2 410.3 171.0 404.0 170.0 C397.7 169.0 389.0 163.8 380.0 160.0 C371.0 156.2 360.0 151.3 350.0 147.0 C340.0 142.7 330.0 138.2 320.0 134.0 C310.0 129.8 299.7 125.7 290.0 122.0 C280.3 118.3 271.2 115.0 262.0 112.0 C252.8 109.0 243.3 106.3 235.0 104.0 C226.7 101.7 217.8 101.1 212.0 98.0 C206.2 94.9 195.7 86.4 200.0 85.5Z" fill="#3f6b2d" />
<path d="M262.0 100.0 C266.7 100.2 280.3 105.3 290.0 108.5 C299.7 111.7 310.0 115.2 320.0 119.0 C330.0 122.8 340.3 126.7 350.0 131.0 C359.7 135.3 370.0 140.7 378.0 145.0 C386.0 149.3 396.8 155.2 398.0 157.0 C399.2 158.8 391.3 158.0 385.0 156.0 C378.7 154.0 368.8 148.8 360.0 145.0 C351.2 141.2 341.3 136.8 332.0 133.0 C322.7 129.2 312.7 125.3 304.0 122.0 C295.3 118.7 287.0 115.5 280.0 113.0 C273.0 110.5 265.0 109.2 262.0 107.0 C259.0 104.8 257.3 99.8 262.0 100.0Z" fill="#4b7a34" />
<path d="M235.0 104.0 C238.7 103.3 252.8 109.0 262.0 112.0 C271.2 115.0 280.3 118.3 290.0 122.0 C299.7 125.7 310.0 129.8 320.0 134.0 C330.0 138.2 340.0 142.7 350.0 147.0 C360.0 151.3 371.0 156.2 380.0 160.0 C389.0 163.8 402.0 166.3 404.0 170.0 C406.0 173.7 398.0 180.7 392.0 182.0 C386.0 183.3 376.3 180.7 368.0 178.0 C359.7 175.3 350.7 170.3 342.0 166.0 C333.3 161.7 324.7 156.3 316.0 152.0 C307.3 147.7 299.0 144.0 290.0 140.0 C281.0 136.0 270.3 132.0 262.0 128.0 C253.7 124.0 244.5 120.0 240.0 116.0 C235.5 112.0 231.3 104.7 235.0 104.0Z" fill="#2f5126" />
<path d="M322.0 112.0 C324.0 112.0 330.2 114.5 332.0 115.3 C333.8 116.1 338.0 119.1 340.0 120.3 C342.0 121.5 349.3 125.2 352.0 126.8 C354.7 128.4 364.4 134.5 367.0 136.2 C369.6 137.9 377.5 143.0 377.5 143.4 C377.5 143.8 369.9 141.4 367.4 140.2 C364.8 139.0 355.1 132.7 352.0 131.0 C348.9 129.3 339.4 124.5 336.4 123.3 C333.4 122.1 324.4 119.7 322.0 118.9 C319.6 118.1 312.0 116.2 312.0 115.5 C312.0 114.8 320.0 112.0 322.0 112.0Z" fill="#ffffff" />
<path d="M318.0 140.0 C321.7 138.7 330.3 144.3 336.0 146.0 C341.7 147.7 349.3 143.0 352.0 150.0 C354.7 157.0 354.3 181.2 352.0 188.0 C349.7 194.8 342.3 191.3 338.0 191.0 C333.7 190.7 329.3 189.5 326.0 186.0 C322.7 182.5 320.0 175.3 318.0 170.0 C316.0 164.7 314.0 159.0 314.0 154.0 C314.0 149.0 314.3 141.3 318.0 140.0Z" fill="#3b632b" />
<path d="M262.0 134.0 C264.7 133.0 276.7 138.0 284.0 140.0 C291.3 142.0 299.3 143.7 306.0 146.0 C312.7 148.3 319.3 151.0 324.0 154.0 C328.7 157.0 331.8 159.7 334.0 164.0 C336.2 168.3 338.0 176.2 337.0 180.0 C336.0 183.8 332.5 186.3 328.0 187.0 C323.5 187.7 315.3 186.2 310.0 184.0 C304.7 181.8 301.0 178.0 296.0 174.0 C291.0 170.0 284.7 164.7 280.0 160.0 C275.3 155.3 271.0 150.3 268.0 146.0 C265.0 141.7 259.3 135.0 262.0 134.0Z" fill="#263f1e" />
<path d="M350.0 146.0 C352.8 143.3 359.0 142.2 364.0 142.0 C369.0 141.8 374.7 142.8 380.0 145.0 C385.3 147.2 390.3 151.7 396.0 155.0 C401.7 158.3 411.7 161.8 414.0 165.0 C416.3 168.2 413.0 170.8 410.0 174.0 C407.0 177.2 401.7 181.7 396.0 184.0 C390.3 186.3 382.3 187.7 376.0 188.0 C369.7 188.3 362.5 188.3 358.0 186.0 C353.5 183.7 350.8 178.7 349.0 174.0 C347.2 169.3 346.8 162.7 347.0 158.0 C347.2 153.3 347.2 148.7 350.0 146.0Z" fill="#78a250" />
<path d="M356.0 158.0 C357.7 154.0 363.3 152.3 368.0 152.0 C372.7 151.7 379.3 153.7 384.0 156.0 C388.7 158.3 395.0 162.3 396.0 166.0 C397.0 169.7 394.0 175.3 390.0 178.0 C386.0 180.7 377.3 182.3 372.0 182.0 C366.7 181.7 360.7 180.0 358.0 176.0 C355.3 172.0 354.3 162.0 356.0 158.0Z" fill="#8ab261" />
<path d="M362.0 164.0 C363.0 161.7 368.7 159.8 372.0 160.0 C375.3 160.2 381.0 162.7 382.0 165.0 C383.0 167.3 380.7 172.5 378.0 174.0 C375.3 175.5 368.7 175.7 366.0 174.0 C363.3 172.3 361.0 166.3 362.0 164.0Z" fill="#9bbf72" />
<path d="M383.0 141.0 C383.7 139.0 391.8 138.7 396.0 138.0 C400.2 137.3 403.7 137.5 408.0 137.0 C412.3 136.5 417.3 135.3 422.0 135.0 C426.7 134.7 431.3 134.5 436.0 135.0 C440.7 135.5 449.3 135.5 450.0 138.0 C450.7 140.5 443.7 146.7 440.0 150.0 C436.3 153.3 432.0 155.3 428.0 158.0 C424.0 160.7 420.0 166.0 416.0 166.0 C412.0 166.0 408.0 160.7 404.0 158.0 C400.0 155.3 395.5 152.8 392.0 150.0 C388.5 147.2 382.3 143.0 383.0 141.0Z" fill="#7ea552" />
<path d="M422.0 136.0 C423.7 133.5 434.3 133.8 440.0 133.0 C445.7 132.2 453.7 129.0 456.0 131.0 C458.3 133.0 456.3 140.8 454.0 145.0 C451.7 149.2 446.3 153.3 442.0 156.0 C437.7 158.7 430.0 162.3 428.0 161.0 C426.0 159.7 431.0 152.2 430.0 148.0 C429.0 143.8 420.3 138.5 422.0 136.0Z" fill="#4a6d30" />
<path d="M416.0 166.0 C418.3 165.0 425.3 161.8 430.0 160.0 C434.7 158.2 441.7 155.8 444.0 155.0" fill="none" stroke="#b4c4aa" stroke-width="2.2" stroke-linecap="butt" stroke-linejoin="round" />
<path d="M235.0 168.0 C237.4 167.8 254.2 170.4 260.0 171.5 C265.8 172.6 280.3 175.9 285.0 177.0 C289.7 178.1 295.3 179.7 300.0 181.0 C304.7 182.3 318.9 187.1 325.0 188.0 C331.1 188.9 345.0 189.3 352.0 189.0 C359.0 188.7 378.2 186.8 385.0 185.0 C391.8 183.2 405.9 174.6 410.0 174.0 C414.1 173.4 420.2 177.2 420.0 180.0 C419.8 182.8 412.4 194.5 408.0 198.0 C403.6 201.5 388.1 207.0 382.0 210.0 C375.9 213.0 359.3 220.2 356.0 224.0 C352.7 227.8 354.8 242.1 354.0 243.0 C353.2 243.9 351.0 234.4 349.0 232.0 C347.0 229.6 339.8 224.8 337.0 222.5 C334.2 220.2 327.4 214.2 325.0 212.5 C322.6 210.8 317.1 208.4 316.5 207.5 C315.9 206.6 319.9 205.9 320.0 205.0 C320.1 204.1 319.8 201.4 317.0 200.0 C314.2 198.6 300.1 194.4 296.0 193.0 C291.9 191.6 286.1 189.8 282.0 188.3 C277.9 186.8 266.0 182.0 261.0 180.3 C256.0 178.6 242.0 174.9 239.0 173.5 C236.0 172.1 232.6 168.2 235.0 168.0Z" fill="#44702e" />
<path d="M300.0 182.0 C303.2 181.9 316.7 187.8 325.0 189.5 C333.3 191.2 345.8 190.4 350.0 192.0 C354.2 193.6 353.7 198.0 350.0 199.0 C346.3 200.0 335.3 199.5 328.0 198.0 C320.7 196.5 310.7 192.7 306.0 190.0 C301.3 187.3 296.8 182.1 300.0 182.0Z" fill="#527f37" />
<path d="M248.5 175.7 Q248.3 178.6 247.0 180.5 Q248.7 178.9 251.5 178.3 Z" fill="#44702e"/>
<path d="M266.6 181.6 Q266.0 184.5 264.5 186.5 Q266.5 185.0 269.4 184.4 Z" fill="#44702e"/>
<path d="M284.4 188.3 Q284.3 191.3 283.0 193.5 Q284.7 191.7 287.6 190.7 Z" fill="#44702e"/>
<path d="M301.4 194.3 Q301.3 197.3 300.0 199.5 Q301.7 197.7 304.6 196.7 Z" fill="#44702e"/>
<path d="M328.8 214.4 Q327.8 217.3 326.0 219.0 Q328.2 217.7 331.2 217.6 Z" fill="#44702e"/>
<path d="M341.8 225.4 Q340.8 228.3 339.0 230.0 Q341.2 228.7 344.2 228.6 Z" fill="#44702e"/>
<path d="M253.7 170.2 Q251.2 169.6 250.0 168.3 Q250.8 170.0 250.3 172.4 Z" fill="#44702e"/>
<path d="M273.9 174.4 Q271.8 173.4 271.0 172.0 Q271.2 173.6 270.1 175.6 Z" fill="#44702e"/>
<path d="M350.0 192.0 C353.0 189.9 361.7 191.2 368.0 190.5 C374.3 189.8 381.3 189.4 388.0 187.5 C394.7 185.6 403.5 179.2 408.0 179.0 C412.5 178.8 415.7 182.7 415.0 186.0 C414.3 189.3 409.2 195.7 404.0 199.0 C398.8 202.3 391.0 204.7 384.0 206.0 C377.0 207.3 367.7 207.5 362.0 207.0 C356.3 206.5 352.0 205.5 350.0 203.0 C348.0 200.5 347.0 194.1 350.0 192.0Z" fill="#7ea552" />
<path d="M366.0 195.0 C369.0 193.5 380.0 193.3 386.0 192.0 C392.0 190.7 399.7 186.5 402.0 187.0 C404.3 187.5 403.0 192.7 400.0 195.0 C397.0 197.3 389.3 200.0 384.0 201.0 C378.7 202.0 371.0 202.0 368.0 201.0 C365.0 200.0 363.0 196.5 366.0 195.0Z" fill="#92b968" />
<path d="M330.0 214.0 C328.3 214.8 341.2 217.7 345.0 222.0 C348.8 226.3 351.2 235.8 353.0 240.0 C354.8 244.2 354.5 245.0 356.0 247.0 C357.5 249.0 358.0 251.5 362.0 252.0 C366.0 252.5 373.7 252.7 380.0 250.0 C386.3 247.3 394.3 241.8 400.0 236.0 C405.7 230.2 411.2 221.3 414.0 215.0 C416.8 208.7 419.3 199.8 417.0 198.0 C414.7 196.2 406.2 201.8 400.0 204.0 C393.8 206.2 387.5 208.8 380.0 211.0 C372.5 213.2 363.3 216.5 355.0 217.0 C346.7 217.5 331.7 213.2 330.0 214.0Z" fill="#557833" />
<path d="M322.0 205.0 C323.3 203.8 334.3 207.5 340.0 208.0 C345.7 208.5 351.0 208.2 356.0 208.0 C361.0 207.8 370.0 205.5 370.0 207.0 C370.0 208.5 360.3 214.7 356.0 217.0 C351.7 219.3 348.0 221.3 344.0 221.0 C340.0 220.7 335.7 217.7 332.0 215.0 C328.3 212.3 320.7 206.2 322.0 205.0Z" fill="#4f7432" />
<path d="M351.0 216.0 C353.3 211.5 362.2 212.5 368.0 211.0 C373.8 209.5 380.3 208.0 386.0 207.0 C391.7 206.0 399.3 203.0 402.0 205.0 C404.7 207.0 404.0 214.3 402.0 219.0 C400.0 223.7 394.7 229.0 390.0 233.0 C385.3 237.0 379.0 240.5 374.0 243.0 C369.0 245.5 363.3 248.8 360.0 248.0 C356.7 247.2 355.5 243.3 354.0 238.0 C352.5 232.7 348.7 220.5 351.0 216.0Z" fill="#8e9f56" />
<path d="M360.0 222.0 C361.7 218.0 371.0 217.3 376.0 216.0 C381.0 214.7 388.0 212.3 390.0 214.0 C392.0 215.7 390.0 222.3 388.0 226.0 C386.0 229.7 381.7 233.7 378.0 236.0 C374.3 238.3 369.0 242.3 366.0 240.0 C363.0 237.7 358.3 226.0 360.0 222.0Z" fill="#b2ba80" />
<path d="M412.0 200.0 C415.0 195.0 423.3 192.7 430.0 190.0 C436.7 187.3 445.0 183.7 452.0 184.0 C459.0 184.3 470.0 187.3 472.0 192.0 C474.0 196.7 467.7 205.3 464.0 212.0 C460.3 218.7 455.7 226.0 450.0 232.0 C444.3 238.0 436.2 243.0 430.0 248.0 C423.8 253.0 417.3 259.7 413.0 262.0 C408.7 264.3 404.5 265.7 404.0 262.0 C403.5 258.3 408.7 247.0 410.0 240.0 C411.3 233.0 411.7 226.7 412.0 220.0 C412.3 213.3 409.0 205.0 412.0 200.0Z" fill="#46531f" />
<path d="M410.0 217.0 C412.0 211.5 416.3 209.8 420.0 207.0 C423.7 204.2 427.7 201.8 432.0 200.0 C436.3 198.2 442.2 196.3 446.0 196.0 C449.8 195.7 453.2 195.2 455.0 198.0 C456.8 200.8 457.8 208.3 457.0 213.0 C456.2 217.7 452.8 221.8 450.0 226.0 C447.2 230.2 443.8 234.0 440.0 238.0 C436.2 242.0 431.5 246.7 427.0 250.0 C422.5 253.3 416.2 259.7 413.0 258.0 C409.8 256.3 408.5 246.8 408.0 240.0 C407.5 233.2 408.0 222.5 410.0 217.0Z" fill="#66752d" />
<path d="M420.0 216.0 C422.7 212.5 428.0 209.0 432.0 207.0 C436.0 205.0 441.5 202.8 444.0 204.0 C446.5 205.2 448.0 210.0 447.0 214.0 C446.0 218.0 441.5 223.7 438.0 228.0 C434.5 232.3 429.5 237.3 426.0 240.0 C422.5 242.7 418.7 246.0 417.0 244.0 C415.3 242.0 415.5 232.7 416.0 228.0 C416.5 223.3 417.3 219.5 420.0 216.0Z" fill="#7a893a" />
<path d="M430.0 212.0 C432.3 209.0 438.2 207.3 440.0 208.0 C441.8 208.7 442.3 213.0 441.0 216.0 C439.7 219.0 434.5 224.3 432.0 226.0 C429.5 227.7 426.3 228.3 426.0 226.0 C425.7 223.7 427.7 215.0 430.0 212.0Z" fill="#66752d" />
<path d="M462.0 217.0 C461.7 219.0 455.0 228.5 450.0 234.0 C445.0 239.5 438.0 245.0 432.0 250.0 C426.0 255.0 418.3 260.7 414.0 264.0 C409.7 267.3 407.8 270.0 406.0 270.0 C404.2 270.0 401.0 267.0 403.0 264.0 C405.0 261.0 412.5 256.3 418.0 252.0 C423.5 247.7 430.3 243.0 436.0 238.0 C441.7 233.0 447.7 225.5 452.0 222.0 C456.3 218.5 462.3 215.0 462.0 217.0Z" fill="#95a03e" />
<path d="M360.0 250.0 C360.6 246.6 367.2 251.6 370.0 251.0 C372.8 250.4 380.7 246.8 384.0 245.0 C387.3 243.2 395.0 238.2 398.0 236.0 C401.0 233.8 408.0 225.5 410.0 226.0 C412.0 226.5 413.7 235.8 415.0 240.0 C416.3 244.2 421.1 257.3 421.0 262.0 C420.9 266.7 415.5 275.6 414.0 280.0 C412.5 284.4 409.1 296.3 408.0 300.0 C406.9 303.7 406.8 310.1 405.0 312.0 C403.2 313.9 395.3 313.9 393.0 316.0 C390.7 318.1 385.7 325.8 385.0 330.0 C384.3 334.2 387.4 349.1 387.0 352.0 C386.6 354.9 383.2 355.6 382.0 354.5 C380.8 353.4 378.2 347.8 377.0 343.0 C375.8 338.2 373.4 320.4 372.0 313.0 C370.6 305.6 366.4 287.4 365.0 280.0 C363.6 272.6 359.4 253.4 360.0 250.0Z" fill="#c9c49e" />
<path d="M360.0 250.0 C360.7 247.1 367.2 251.6 370.0 251.0 C372.8 250.4 380.7 246.8 384.0 245.0 C387.3 243.2 395.0 238.2 398.0 236.0 C401.0 233.8 408.0 225.5 410.0 226.0 C412.0 226.5 413.7 235.8 415.0 240.0 C416.3 244.2 421.0 257.8 421.0 262.0 C421.0 266.2 417.7 274.8 415.0 276.0 C412.3 277.2 402.1 272.1 398.0 272.0 C393.9 271.9 384.0 274.5 380.0 275.0 C376.0 275.5 366.3 278.9 364.0 276.0 C361.7 273.1 359.3 252.9 360.0 250.0Z" fill="#b9b382" />
<path d="M378.0 254.0 C380.0 250.3 387.3 249.0 392.0 246.0 C396.7 243.0 402.7 235.3 406.0 236.0 C409.3 236.7 411.0 245.3 412.0 250.0 C413.0 254.7 414.7 261.0 412.0 264.0 C409.3 267.0 401.3 267.3 396.0 268.0 C390.7 268.7 383.0 270.3 380.0 268.0 C377.0 265.7 376.0 257.7 378.0 254.0Z" fill="#cdc8a2" />
<path d="M388.0 254.0 C389.3 251.0 397.0 246.0 400.0 246.0 C403.0 246.0 405.7 251.3 406.0 254.0 C406.3 256.7 404.3 260.3 402.0 262.0 C399.7 263.7 394.3 265.3 392.0 264.0 C389.7 262.7 386.7 257.0 388.0 254.0Z" fill="#dad6b8" />
<path d="M362.0 252.0 C363.3 250.2 367.7 251.3 370.0 253.0 C372.3 254.7 375.3 258.5 376.0 262.0 C376.7 265.5 375.8 271.7 374.0 274.0 C372.2 276.3 367.0 277.7 365.0 276.0 C363.0 274.3 362.5 268.0 362.0 264.0 C361.5 260.0 360.7 253.8 362.0 252.0Z" fill="#a9a256" />
<path d="M366.0 280.0 C368.3 279.6 375.0 278.2 380.0 277.5 C385.0 276.8 390.5 275.9 396.0 276.0 C401.5 276.1 410.2 277.7 413.0 278.0" fill="none" stroke="#a28c64" stroke-width="4.2" stroke-linecap="butt" stroke-linejoin="round" />
<path d="M394.0 278.0 C394.5 276.7 400.0 275.5 402.0 276.0 C404.0 276.5 406.5 279.7 406.0 281.0 C405.5 282.3 401.0 284.5 399.0 284.0 C397.0 283.5 393.5 279.3 394.0 278.0Z" fill="#9a6e58" />
<path d="M392.0 257.0 C392.5 255.8 396.5 254.5 398.0 255.0 C399.5 255.5 401.5 258.8 401.0 260.0 C400.5 261.2 396.5 262.5 395.0 262.0 C393.5 261.5 391.5 258.2 392.0 257.0Z" fill="#a08460" />
<path d="M372.0 284.0 C373.8 280.5 382.0 281.2 388.0 281.0 C394.0 280.8 404.8 280.2 408.0 283.0 C411.2 285.8 408.3 294.2 407.0 298.0 C405.7 301.8 403.5 303.8 400.0 306.0 C396.5 308.2 389.8 311.7 386.0 311.0 C382.2 310.3 379.3 306.5 377.0 302.0 C374.7 297.5 370.2 287.5 372.0 284.0Z" fill="#dcd8ba" />
<path d="M382.0 286.0 C383.0 282.2 389.3 283.3 392.0 284.0 C394.7 284.7 397.7 286.7 398.0 290.0 C398.3 293.3 396.0 301.2 394.0 304.0 C392.0 306.8 388.0 310.0 386.0 307.0 C384.0 304.0 381.0 289.8 382.0 286.0Z" fill="#ece9d8" />
<path d="M402.0 286.0 C401.7 288.3 400.3 297.7 400.0 300.0" fill="none" stroke="#f2efe2" stroke-width="2.2" stroke-linecap="butt" stroke-linejoin="round" />
<path d="M378.0 288.0 C378.5 290.3 380.5 299.7 381.0 302.0" fill="none" stroke="#cfc9a0" stroke-width="2.0" stroke-linecap="butt" stroke-linejoin="round" />
<path d="M363.0 270.0 C363.5 269.3 367.7 271.0 369.0 274.0 C370.3 277.0 372.7 290.6 374.0 296.0 C375.3 301.4 378.7 314.9 380.0 320.0 C381.3 325.1 384.2 336.3 385.0 340.0 C385.8 343.7 387.4 350.3 387.0 352.0 C386.6 353.7 383.2 355.6 382.0 354.5 C380.8 353.4 378.2 347.8 377.0 343.0 C375.8 338.2 373.4 320.4 372.0 313.0 C370.6 305.6 366.1 285.0 365.0 280.0 C363.9 275.0 362.5 270.7 363.0 270.0Z" fill="#a89c48" />
<path d="M367.0 282.0 C367.2 281.1 369.9 281.2 371.0 284.0 C372.1 286.8 374.8 300.9 376.0 306.0 C377.2 311.1 380.6 325.0 381.0 328.0 C381.4 331.0 379.8 333.9 379.0 332.0 C378.2 330.1 375.2 316.7 374.0 312.0 C372.8 307.3 369.8 295.5 369.0 292.0 C368.2 288.5 366.8 282.9 367.0 282.0Z" fill="#c4b870" />
<path d="M355.0 244.0 C356.5 242.4 367.9 241.6 372.0 240.0 C376.1 238.4 382.7 234.5 386.0 232.0 C389.3 229.5 394.6 223.8 397.0 221.0 C399.4 218.2 401.9 211.9 404.0 211.0 C406.1 210.1 412.2 212.1 413.0 214.0 C413.8 215.9 412.0 222.1 410.0 225.0 C408.0 227.9 401.5 233.3 398.0 236.0 C394.5 238.7 387.7 242.9 384.0 245.0 C380.3 247.1 373.1 250.6 370.0 251.5 C366.9 252.4 363.0 253.0 361.0 252.0 C359.0 251.0 353.5 245.6 355.0 244.0Z" fill="#456a2c" />
<path d="M514.0 211.0 C512.8 209.0 504.3 209.5 500.0 210.0 C495.7 210.5 486.4 213.0 482.0 214.5 C477.6 216.0 471.3 218.9 467.0 221.5 C462.7 224.1 454.7 230.3 450.0 234.0 C445.3 237.7 436.0 245.0 432.0 249.0 C428.0 253.0 422.4 259.9 420.0 264.0 C417.6 268.1 415.2 275.2 414.0 280.0 C412.8 284.8 411.3 294.9 411.0 300.0 C410.7 305.1 410.3 315.6 412.0 318.0 C413.7 320.4 422.0 319.2 424.0 318.0 C426.0 316.8 425.1 311.0 427.0 309.0 C428.9 307.0 436.1 304.9 438.0 303.0 C439.9 301.1 439.5 297.1 441.0 295.0 C442.5 292.9 446.7 289.1 449.0 287.0 C451.3 284.9 455.2 281.0 458.0 279.0 C460.8 277.0 466.0 273.7 470.0 272.0 C474.0 270.3 485.6 267.8 488.0 266.5 C490.4 265.2 489.9 262.8 488.0 262.5 C486.1 262.2 477.3 264.0 474.0 264.5 C470.7 265.0 463.9 266.7 463.0 266.0 C462.1 265.3 465.1 260.9 467.0 259.0 C468.9 257.1 473.8 253.9 477.0 252.0 C480.2 250.1 487.5 246.9 491.0 245.0 C494.5 243.1 500.6 240.2 503.0 237.5 C505.4 234.8 507.5 228.5 509.0 225.0 C510.5 221.5 515.2 213.0 514.0 211.0Z" fill="#2b2413" />
<path d="M512.0 212.0 C510.0 211.9 505.0 210.8 500.0 211.5 C495.0 212.2 487.5 214.1 482.0 216.0 C476.5 217.9 472.2 219.7 467.0 223.0 C461.8 226.3 456.5 231.3 451.0 236.0 C445.5 240.7 438.7 246.5 434.0 251.0 C429.3 255.5 424.8 261.0 423.0 263.0" fill="none" stroke="#6b5840" stroke-width="3.2" stroke-linecap="round" stroke-linejoin="round" />
<path d="M448.0 238.0 C448.7 236.8 453.5 235.8 455.0 236.5 C456.5 237.2 457.7 240.8 457.0 242.0 C456.3 243.2 452.5 244.7 451.0 244.0 C449.5 243.3 447.3 239.2 448.0 238.0Z" fill="#6b5840" />
<path d="M471.3 220.3 Q469.2 218.9 468.0 217.0 Q468.8 219.1 468.7 221.7 Z" fill="#6b5840"/>
<path d="M459.2 229.1 Q456.7 227.9 455.0 226.0 Q456.3 228.1 456.8 230.9 Z" fill="#6b5840"/>
<path d="M444.1 240.9 Q441.7 240.3 440.0 239.0 Q441.3 240.7 441.9 243.1 Z" fill="#6b5840"/>
<path d="M490.5 212.6 Q488.7 210.9 488.0 209.0 Q488.3 211.1 487.5 213.4 Z" fill="#6b5840"/>
<path d="M445.0 280.0 C446.2 279.6 449.5 277.6 452.0 277.5 C454.5 277.4 457.3 279.7 460.0 279.5 C462.7 279.3 464.8 277.1 468.0 276.5 C471.2 275.9 477.2 276.1 479.0 276.0" fill="none" stroke="#6b5040" stroke-width="2.0" stroke-linecap="round" stroke-linejoin="round" />
<path d="M451.0 289.0 C452.0 288.6 454.8 286.5 457.0 286.5 C459.2 286.5 461.8 289.1 464.0 289.0 C466.2 288.9 468.0 286.4 470.0 286.0 C472.0 285.6 475.0 286.4 476.0 286.5" fill="none" stroke="#2e2a20" stroke-width="3.0" stroke-linecap="round" stroke-linejoin="round" />
<path d="M462.0 250.0 C462.7 251.0 465.8 254.0 466.0 256.0 C466.2 258.0 463.5 261.0 463.0 262.0" fill="none" stroke="#55606a" stroke-width="1.6" stroke-linecap="round" stroke-linejoin="round" />
<path d="M452.0 298.0 C452.7 297.3 454.5 294.3 456.0 294.0 C457.5 293.7 459.8 294.8 461.0 296.0 C462.2 297.2 462.2 301.0 463.0 301.0 C463.8 301.0 464.7 297.0 466.0 296.0 C467.3 295.0 469.7 294.3 471.0 295.0 C472.3 295.7 474.2 298.0 474.0 300.0 C473.8 302.0 471.7 304.7 470.0 307.0 C468.3 309.3 466.0 314.0 464.0 314.0 C462.0 314.0 459.7 309.0 458.0 307.0 C456.3 305.0 455.0 303.5 454.0 302.0 C453.0 300.5 452.3 298.7 452.0 298.0" fill="none" stroke="#3c3a32" stroke-width="2.2" stroke-linecap="round" stroke-linejoin="round" />
<path d="M443.0 288.0 C443.3 289.7 445.0 294.7 445.0 298.0 C445.0 301.3 442.8 304.3 443.0 308.0 C443.2 311.7 444.5 316.7 446.0 320.0 C447.5 323.3 451.0 326.7 452.0 328.0" fill="none" stroke="#6a7070" stroke-width="2.0" stroke-linecap="round" stroke-linejoin="round" />
<path d="M436.0 300.0 C436.7 300.7 438.8 302.7 440.0 304.0 C441.2 305.3 442.5 307.3 443.0 308.0" fill="none" stroke="#4a4a44" stroke-width="1.8" stroke-linecap="round" stroke-linejoin="round" />
<path d="M438.0 318.0 C438.8 318.7 441.3 320.7 443.0 322.0 C444.7 323.3 447.2 325.3 448.0 326.0" fill="none" stroke="#6a7070" stroke-width="1.6" stroke-linecap="round" stroke-linejoin="round" />
<path d="M489.0 308.0 C488.5 309.3 487.2 313.0 486.0 316.0 C484.8 319.0 483.3 322.8 482.0 326.0 C480.7 329.2 479.5 331.7 478.0 335.0 C476.5 338.3 474.7 342.3 473.0 346.0 C471.3 349.7 469.7 353.3 468.0 357.0 C466.3 360.7 464.5 364.5 463.0 368.0 C461.5 371.5 460.3 374.3 459.0 378.0 C457.7 381.7 455.7 388.0 455.0 390.0" fill="none" stroke="#33261d" stroke-width="10.0" stroke-linecap="round" stroke-linejoin="round" />
<path d="M492.0 300.0 C491.5 301.3 490.0 305.3 489.0 308.0 C488.0 310.7 486.5 314.7 486.0 316.0" fill="none" stroke="#33261d" stroke-width="6.5" stroke-linecap="round" stroke-linejoin="round" />
<path d="M494.0 292.0 C493.7 293.3 492.8 297.3 492.0 300.0 C491.2 302.7 489.5 306.7 489.0 308.0" fill="none" stroke="#33261d" stroke-width="3.5" stroke-linecap="round" stroke-linejoin="round" />
<path d="M485.0 312.0 C484.3 313.7 482.5 318.3 481.0 322.0 C479.5 325.7 477.7 330.2 476.0 334.0 C474.3 337.8 472.5 341.7 471.0 345.0 C469.5 348.3 467.7 352.5 467.0 354.0" fill="none" stroke="#6b5644" stroke-width="2.6" stroke-linecap="round" stroke-linejoin="round" />
<ellipse cx="486.3" cy="304.6" rx="2.5" ry="1.6" transform="rotate(137 486.3 304.6)" fill="#33261d"/>
<ellipse cx="484.1" cy="308.8" rx="2.9" ry="1.8" transform="rotate(22 484.1 308.8)" fill="#33261d"/>
<ellipse cx="483.4" cy="315.9" rx="1.6" ry="2.1" transform="rotate(144 483.4 315.9)" fill="#33261d"/>
<ellipse cx="480.4" cy="317.3" rx="2.4" ry="2.9" transform="rotate(147 480.4 317.3)" fill="#33261d"/>
<ellipse cx="480.8" cy="326.7" rx="1.8" ry="2.3" transform="rotate(34 480.8 326.7)" fill="#33261d"/>
<ellipse cx="478.0" cy="327.6" rx="1.7" ry="2.0" transform="rotate(174 478.0 327.6)" fill="#33261d"/>
<ellipse cx="471.9" cy="343.8" rx="2.5" ry="2.1" transform="rotate(140 471.9 343.8)" fill="#33261d"/>
<ellipse cx="477.0" cy="343.6" rx="2.4" ry="2.2" transform="rotate(136 477.0 343.6)" fill="#33261d"/>
<ellipse cx="469.3" cy="353.2" rx="2.4" ry="2.2" transform="rotate(76 469.3 353.2)" fill="#33261d"/>
<ellipse cx="467.6" cy="351.9" rx="2.7" ry="1.6" transform="rotate(76 467.6 351.9)" fill="#33261d"/>
<ellipse cx="465.2" cy="369.6" rx="2.6" ry="1.9" transform="rotate(18 465.2 369.6)" fill="#33261d"/>
<ellipse cx="461.3" cy="365.2" rx="2.6" ry="1.7" transform="rotate(125 461.3 365.2)" fill="#33261d"/>
<ellipse cx="459.2" cy="382.4" rx="1.6" ry="2.3" transform="rotate(80 459.2 382.4)" fill="#33261d"/>
<ellipse cx="458.5" cy="376.6" rx="2.2" ry="2.7" transform="rotate(17 458.5 376.6)" fill="#33261d"/>
<path d="M487.0 326.0 C487.1 328.0 487.6 334.0 487.5 338.0 C487.4 342.0 486.9 346.0 486.5 350.0 C486.1 354.0 485.6 358.0 485.0 362.0 C484.4 366.0 484.2 370.3 483.0 374.0 C481.8 377.7 480.2 381.5 478.0 384.0 C475.8 386.5 471.3 388.2 470.0 389.0" fill="none" stroke="#5f4c3c" stroke-width="2.6" stroke-linecap="round" stroke-linejoin="round" />
<ellipse cx="489.2" cy="333.6" rx="1.3" ry="1.5" transform="rotate(15 489.2 333.6)" fill="#5a4a3a"/>
<ellipse cx="489.8" cy="345.3" rx="1.4" ry="1.5" transform="rotate(114 489.8 345.3)" fill="#5a4a3a"/>
<ellipse cx="486.2" cy="359.6" rx="1.5" ry="0.8" transform="rotate(118 486.2 359.6)" fill="#5a4a3a"/>
<ellipse cx="484.5" cy="372.4" rx="1.3" ry="1.0" transform="rotate(73 484.5 372.4)" fill="#5a4a3a"/>
<ellipse cx="490.9" cy="323.2" rx="0.9" ry="1.2" transform="rotate(20 490.9 323.2)" fill="#8a8f8a"/>
<ellipse cx="493.0" cy="333.7" rx="0.9" ry="0.8" transform="rotate(110 493.0 333.7)" fill="#8a8f8a"/>
<ellipse cx="492.1" cy="341.3" rx="0.9" ry="0.9" transform="rotate(97 492.1 341.3)" fill="#8a8f8a"/>
<path d="M436.0 368.0 C437.7 368.5 442.3 369.8 446.0 371.0 C449.7 372.2 454.0 373.7 458.0 375.0 C462.0 376.3 465.8 377.8 470.0 379.0 C474.2 380.2 480.8 381.9 483.0 382.5" fill="none" stroke="#3a2b21" stroke-width="7.5" stroke-linecap="round" stroke-linejoin="round" />
<path d="M438.0 366.5 C439.7 366.9 444.3 367.9 448.0 369.0 C451.7 370.1 456.0 371.7 460.0 373.0 C464.0 374.3 470.0 376.3 472.0 377.0" fill="none" stroke="#6b5644" stroke-width="2.6" stroke-linecap="round" stroke-linejoin="round" />
<path d="M460.0 391.0 C461.3 391.5 465.3 392.8 468.0 394.0 C470.7 395.2 474.7 397.3 476.0 398.0" fill="none" stroke="#4a3a2a" stroke-width="3.5" stroke-linecap="round" stroke-linejoin="round" />
<path d="M476.0 387.0 C477.2 386.5 481.8 384.5 483.0 384.0" fill="none" stroke="#3a2b21" stroke-width="4.0" stroke-linecap="round" stroke-linejoin="round" />
<ellipse cx="448.7" cy="379.9" rx="1.4" ry="1.5" transform="rotate(59 448.7 379.9)" fill="#3a2b21"/>
<ellipse cx="443.1" cy="384.0" rx="1.5" ry="1.6" transform="rotate(37 443.1 384.0)" fill="#3a2b21"/>
<ellipse cx="455.5" cy="385.2" rx="2.0" ry="2.5" transform="rotate(176 455.5 385.2)" fill="#3a2b21"/>
<ellipse cx="458.2" cy="388.7" rx="2.1" ry="2.2" transform="rotate(116 458.2 388.7)" fill="#3a2b21"/>
<ellipse cx="468.4" cy="389.7" rx="2.4" ry="2.3" transform="rotate(100 468.4 389.7)" fill="#3a2b21"/>
<ellipse cx="465.4" cy="387.4" rx="1.9" ry="1.8" transform="rotate(48 465.4 387.4)" fill="#3a2b21"/>
<ellipse cx="471.4" cy="390.3" rx="1.4" ry="1.7" transform="rotate(13 471.4 390.3)" fill="#3a2b21"/>
<ellipse cx="471.6" cy="392.4" rx="2.0" ry="2.5" transform="rotate(157 471.6 392.4)" fill="#3a2b21"/>
<ellipse cx="449.2" cy="396.2" rx="2.1" ry="1.4" transform="rotate(64 449.2 396.2)" fill="#3a2b21"/>
<ellipse cx="454.7" cy="394.6" rx="1.9" ry="1.4" transform="rotate(124 454.7 394.6)" fill="#3a2b21"/>
<ellipse cx="443.0" cy="379.8" rx="1.9" ry="1.3" transform="rotate(26 443.0 379.8)" fill="#3a2b21"/>
<ellipse cx="441.5" cy="381.4" rx="1.9" ry="2.2" transform="rotate(132 441.5 381.4)" fill="#3a2b21"/>
<ellipse cx="437.1" cy="362.7" rx="1.3" ry="0.9" transform="rotate(139 437.1 362.7)" fill="#5a4a3a"/>
<ellipse cx="454.5" cy="359.5" rx="1.1" ry="1.4" transform="rotate(23 454.5 359.5)" fill="#5a4a3a"/>
<ellipse cx="463.2" cy="360.6" rx="1.2" ry="1.0" transform="rotate(57 463.2 360.6)" fill="#5a4a3a"/>
<ellipse cx="432.2" cy="353.7" rx="1.1" ry="1.0" transform="rotate(49 432.2 353.7)" fill="#5a4a3a"/>
<path d="M444.0 380.0 C445.6 378.8 452.5 382.1 456.0 383.0 C459.5 383.9 466.9 385.8 470.0 387.0 C473.1 388.2 478.2 390.4 479.0 392.0 C479.8 393.6 478.0 397.9 476.0 399.0 C474.0 400.1 467.2 400.1 464.0 400.0 C460.8 399.9 454.7 399.1 452.0 398.0 C449.3 396.9 445.1 394.4 444.0 392.0 C442.9 389.6 442.4 381.2 444.0 380.0Z" fill="#2a1f18" />
<path d="M450.0 388.0 C450.7 387.0 457.3 388.8 460.0 390.0 C462.7 391.2 466.7 394.0 466.0 395.0 C465.3 396.0 458.7 397.2 456.0 396.0 C453.3 394.8 449.3 389.0 450.0 388.0Z" fill="#6b5644" />
<path d="M527.0 193.0 C526.2 194.3 523.7 198.3 522.0 201.0 C520.3 203.7 518.7 206.2 517.0 209.0 C515.3 211.8 513.8 214.3 512.0 218.0 C510.2 221.7 508.0 226.5 506.0 231.0 C504.0 235.5 502.0 240.3 500.0 245.0 C498.0 249.7 495.8 254.5 494.0 259.0 C492.2 263.5 490.5 267.8 489.0 272.0 C487.5 276.2 485.7 282.0 485.0 284.0" fill="none" stroke="#57463b" stroke-width="7.6" stroke-linecap="round" stroke-linejoin="round" />
<path d="M485.0 284.0 C484.3 285.8 482.5 291.3 481.0 295.0 C479.5 298.7 477.8 302.5 476.0 306.0 C474.2 309.5 472.2 312.8 470.0 316.0 C467.8 319.2 465.3 322.2 463.0 325.0 C460.7 327.8 458.5 330.5 456.0 333.0 C453.5 335.5 450.7 337.8 448.0 340.0 C445.3 342.2 442.8 344.0 440.0 346.0 C437.2 348.0 434.0 350.2 431.0 352.0 C428.0 353.8 425.2 355.3 422.0 357.0 C418.8 358.7 415.3 360.5 412.0 362.0 C408.7 363.5 403.7 365.3 402.0 366.0" fill="none" stroke="#57463b" stroke-width="10.0" stroke-linecap="round" stroke-linejoin="round" />
<path d="M527.0 193.0 C526.2 194.3 523.7 198.3 522.0 201.0 C520.3 203.7 518.7 206.2 517.0 209.0 C515.3 211.8 513.8 214.3 512.0 218.0 C510.2 221.7 508.0 226.5 506.0 231.0 C504.0 235.5 502.0 240.3 500.0 245.0 C498.0 249.7 495.8 254.5 494.0 259.0 C492.2 263.5 490.5 267.8 489.0 272.0 C487.5 276.2 485.7 282.0 485.0 284.0" fill="none" stroke="#7d6858" stroke-width="5.8" stroke-linecap="round" stroke-linejoin="round" />
<path d="M485.0 284.0 C484.3 285.8 482.5 291.3 481.0 295.0 C479.5 298.7 477.8 302.5 476.0 306.0 C474.2 309.5 472.2 312.8 470.0 316.0 C467.8 319.2 465.3 322.2 463.0 325.0 C460.7 327.8 458.5 330.5 456.0 333.0 C453.5 335.5 450.7 337.8 448.0 340.0 C445.3 342.2 442.8 344.0 440.0 346.0 C437.2 348.0 434.0 350.2 431.0 352.0 C428.0 353.8 425.2 355.3 422.0 357.0 C418.8 358.7 415.3 360.5 412.0 362.0 C408.7 363.5 403.7 365.3 402.0 366.0" fill="none" stroke="#7d6858" stroke-width="7.8" stroke-linecap="round" stroke-linejoin="round" />
<path d="M533.0 178.0 C532.5 179.3 531.0 183.5 530.0 186.0 C529.0 188.5 527.5 191.8 527.0 193.0" fill="none" stroke="#7d6858" stroke-width="4.5" stroke-linecap="round" stroke-linejoin="round" />
<path d="M521.0 208.0 C522.5 207.5 526.8 205.6 530.0 205.0 C533.2 204.4 536.7 205.0 540.0 204.5 C543.3 204.0 546.7 202.9 550.0 202.0 C553.3 201.1 558.3 199.5 560.0 199.0" fill="none" stroke="#7d6858" stroke-width="2.4" stroke-linecap="round" stroke-linejoin="round" />
<path d="M533.0 178.0 C534.2 178.2 537.7 178.5 540.0 179.0 C542.3 179.5 545.8 180.7 547.0 181.0" fill="none" stroke="#7d6858" stroke-width="2.0" stroke-linecap="round" stroke-linejoin="round" />
<path d="M556.0 143.0 C554.7 145.0 550.7 151.0 548.0 155.0 C545.3 159.0 542.5 163.2 540.0 167.0 C537.5 170.8 534.2 176.2 533.0 178.0" fill="none" stroke="#6b5a48" stroke-width="3.0" stroke-linecap="round" stroke-linejoin="round" />
<path d="M500.0 245.0 C500.8 244.7 503.3 243.8 505.0 243.0 C506.7 242.2 509.2 240.5 510.0 240.0" fill="none" stroke="#7d6858" stroke-width="2.0" stroke-linecap="round" stroke-linejoin="round" />
<ellipse cx="512.1" cy="228.2" rx="1.4" ry="1.0" transform="rotate(132 512.1 228.2)" fill="#57463b"/>
<ellipse cx="496.9" cy="255.6" rx="1.6" ry="1.4" transform="rotate(120 496.9 255.6)" fill="#57463b"/>
<ellipse cx="486.3" cy="281.3" rx="1.6" ry="1.2" transform="rotate(89 486.3 281.3)" fill="#57463b"/>
<ellipse cx="481.2" cy="307.1" rx="1.0" ry="1.0" transform="rotate(50 481.2 307.1)" fill="#57463b"/>
<path d="M383.0 319.0 C382.8 316.5 385.5 313.2 387.0 311.0 C388.5 308.8 389.7 307.3 392.0 306.0 C394.3 304.7 398.0 303.2 401.0 303.0 C404.0 302.8 407.5 303.7 410.0 305.0 C412.5 306.3 415.2 308.7 416.0 311.0 C416.8 313.3 416.0 315.8 415.0 319.0 C414.0 322.2 410.5 326.0 410.0 330.0 C409.5 334.0 410.7 339.5 412.0 343.0 C413.3 346.5 415.8 348.7 418.0 351.0 C420.2 353.3 422.3 355.2 425.0 357.0 C427.7 358.8 433.2 360.0 434.0 362.0 C434.8 364.0 432.7 367.2 430.0 369.0 C427.3 370.8 421.8 372.2 418.0 373.0 C414.2 373.8 410.3 374.7 407.0 374.0 C403.7 373.3 400.2 371.7 398.0 369.0 C395.8 366.3 395.0 362.0 394.0 358.0 C393.0 354.0 392.7 349.0 392.0 345.0 C391.3 341.0 390.7 337.2 390.0 334.0 C389.3 330.8 389.2 328.5 388.0 326.0 C386.8 323.5 383.2 321.5 383.0 319.0Z" fill="#7b6c5e" />
<path d="M396.0 312.0 C397.0 309.8 401.7 308.7 404.0 309.0 C406.3 309.3 409.7 311.8 410.0 314.0 C410.3 316.2 408.0 320.7 406.0 322.0 C404.0 323.3 399.7 323.7 398.0 322.0 C396.3 320.3 395.0 314.2 396.0 312.0Z" fill="#978878" />
<path d="M400.0 332.0 C401.7 331.0 406.3 333.3 408.0 336.0 C409.7 338.7 408.7 344.7 410.0 348.0 C411.3 351.3 416.0 354.0 416.0 356.0 C416.0 358.0 412.3 360.7 410.0 360.0 C407.7 359.3 404.0 355.0 402.0 352.0 C400.0 349.0 398.3 345.3 398.0 342.0 C397.7 338.7 398.3 333.0 400.0 332.0Z" fill="#5f5146" />
<path d="M386.0 341.0 C386.7 338.3 390.3 337.5 392.0 339.0 C393.7 340.5 395.2 346.0 396.0 350.0 C396.8 354.0 397.7 360.3 397.0 363.0 C396.3 365.7 393.5 367.3 392.0 366.0 C390.5 364.7 389.0 359.2 388.0 355.0 C387.0 350.8 385.3 343.7 386.0 341.0Z" fill="#1a140e" />
<path d="M404.0 297.0 C404.5 294.8 411.0 294.3 414.0 295.0 C417.0 295.7 421.0 298.7 422.0 301.0 C423.0 303.3 421.8 307.8 420.0 309.0 C418.2 310.2 413.7 310.0 411.0 308.0 C408.3 306.0 403.5 299.2 404.0 297.0Z" fill="#2a2116" />
<path d="M374.0 318.0 C374.8 314.3 380.7 314.0 383.0 316.0 C385.3 318.0 386.8 325.0 388.0 330.0 C389.2 335.0 390.0 342.3 390.0 346.0 C390.0 349.7 389.3 351.2 388.0 352.0 C386.7 352.8 383.7 353.3 382.0 351.0 C380.3 348.7 379.3 343.5 378.0 338.0 C376.7 332.5 373.2 321.7 374.0 318.0Z" fill="#a99b4a" />
<path d="M378.0 320.0 C378.5 317.8 381.7 317.0 383.0 319.0 C384.3 321.0 385.5 327.8 386.0 332.0 C386.5 336.2 386.7 342.0 386.0 344.0 C385.3 346.0 383.0 346.0 382.0 344.0 C381.0 342.0 380.7 336.0 380.0 332.0 C379.3 328.0 377.5 322.2 378.0 320.0Z" fill="#d2c686" />
<path d="M357.0 374.0 C360.2 370.0 366.2 369.5 372.0 368.0 C377.8 366.5 385.3 365.0 392.0 365.0 C398.7 365.0 405.7 367.2 412.0 368.0 C418.3 368.8 424.3 368.3 430.0 370.0 C435.7 371.7 442.3 374.3 446.0 378.0 C449.7 381.7 451.3 387.7 452.0 392.0 C452.7 396.3 452.0 401.2 450.0 404.0 C448.0 406.8 445.0 408.0 440.0 409.0 C435.0 410.0 427.5 409.8 420.0 410.0 C412.5 410.2 403.0 410.2 395.0 410.0 C387.0 409.8 378.2 410.0 372.0 409.0 C365.8 408.0 361.2 406.8 358.0 404.0 C354.8 401.2 353.2 397.0 353.0 392.0 C352.8 387.0 353.8 378.0 357.0 374.0Z" fill="#17110b" />
<path d="M358.0 383.0 C358.8 381.5 361.8 381.2 363.0 382.0 C364.2 382.8 365.2 386.2 365.0 388.0 C364.8 389.8 363.2 392.5 362.0 393.0 C360.8 393.5 358.7 392.7 358.0 391.0 C357.3 389.3 357.2 384.5 358.0 383.0Z" fill="#ffffff" />
<path d="M428.0 403.0 C428.3 402.1 433.7 400.8 436.0 401.0 C438.3 401.2 442.3 403.1 442.0 404.0 C441.7 404.9 436.3 406.7 434.0 406.5 C431.7 406.3 427.7 403.9 428.0 403.0Z" fill="#ffffff" />
<path d="M366.0 380.0 C367.8 378.2 373.7 376.3 376.0 377.0 C378.3 377.7 380.7 381.8 380.0 384.0 C379.3 386.2 374.5 389.3 372.0 390.0 C369.5 390.7 366.0 389.7 365.0 388.0 C364.0 386.3 364.2 381.8 366.0 380.0Z" fill="#3a2c1c" />
<path d="M392.0 380.0 C392.7 378.0 398.0 377.0 400.0 378.0 C402.0 379.0 404.7 384.0 404.0 386.0 C403.3 388.0 398.0 391.0 396.0 390.0 C394.0 389.0 391.3 382.0 392.0 380.0Z" fill="#4a3a28" />
<path d="M426.0 380.0 C427.0 377.7 433.0 377.0 436.0 378.0 C439.0 379.0 443.3 383.0 444.0 386.0 C444.7 389.0 442.3 395.0 440.0 396.0 C437.7 397.0 432.3 394.7 430.0 392.0 C427.7 389.3 425.0 382.3 426.0 380.0Z" fill="#3a2c1c" />
<path d="M342.0 372.5 C343.7 372.1 348.7 370.9 352.0 370.0 C355.3 369.1 358.3 368.0 362.0 367.0 C365.7 366.0 370.0 364.8 374.0 364.0 C378.0 363.2 382.7 362.5 386.0 362.5 C389.3 362.5 392.7 363.8 394.0 364.0" fill="none" stroke="#7b6448" stroke-width="3.6" stroke-linecap="round" stroke-linejoin="round" />
<path d="M386.0 365.0 C383.7 365.4 376.3 366.2 372.0 367.5 C367.7 368.8 363.3 370.8 360.0 373.0 C356.7 375.2 353.9 378.0 352.0 381.0 C350.1 384.0 348.8 388.0 348.5 391.0 C348.2 394.0 348.9 396.8 350.0 399.0 C351.1 401.2 354.2 403.2 355.0 404.0" fill="none" stroke="#7b6448" stroke-width="8.5" stroke-linecap="round" stroke-linejoin="round" />
<path d="M364.0 374.0 C365.7 373.5 370.3 371.7 374.0 371.0 C377.7 370.3 384.0 370.2 386.0 370.0" fill="none" stroke="#3a2c1c" stroke-width="2.5" stroke-linecap="round" stroke-linejoin="round" />
<path d="M358.0 406.0 C361.7 406.2 373.0 407.2 380.0 407.5 C387.0 407.8 393.3 408.0 400.0 408.0 C406.7 408.0 413.3 407.8 420.0 407.5 C426.7 407.2 434.0 406.4 440.0 406.5 C446.0 406.6 453.3 407.8 456.0 408.0" fill="none" stroke="#6b5538" stroke-width="5.6" stroke-linecap="round" stroke-linejoin="round" />
<path d="M372.0 412.0 C373.0 412.8 377.3 415.5 378.0 417.0 C378.7 418.5 376.3 420.3 376.0 421.0" fill="none" stroke="#7a6a2c" stroke-width="2.5" stroke-linecap="round" stroke-linejoin="round" />
<path d="M448.0 410.0 C449.0 410.8 452.0 413.3 454.0 415.0 C456.0 416.7 459.0 419.2 460.0 420.0" fill="none" stroke="#5a4a38" stroke-width="3.0" stroke-linecap="round" stroke-linejoin="round" />
<path d="M412.0 374.0 C412.7 371.7 417.0 370.7 419.0 372.0 C421.0 373.3 422.8 378.7 424.0 382.0 C425.2 385.3 426.7 390.0 426.0 392.0 C425.3 394.0 421.8 395.0 420.0 394.0 C418.2 393.0 416.3 389.3 415.0 386.0 C413.7 382.7 411.3 376.3 412.0 374.0Z" fill="#8a7c28" />
<path d="M438.0 382.0 C438.5 379.7 442.3 380.3 444.0 382.0 C445.7 383.7 447.7 389.2 448.0 392.0 C448.3 394.8 447.2 398.3 446.0 399.0 C444.8 399.7 442.3 398.8 441.0 396.0 C439.7 393.2 437.5 384.3 438.0 382.0Z" fill="#8a7c28" />
<path d="M396.0 372.0 C396.5 370.2 400.7 369.7 402.0 371.0 C403.3 372.3 404.5 378.2 404.0 380.0 C403.5 381.8 400.3 383.3 399.0 382.0 C397.7 380.7 395.5 373.8 396.0 372.0Z" fill="#6b6424" />
<path d="M376.0 402.0 C378.0 400.7 385.3 399.0 390.0 398.0 C394.7 397.0 401.0 395.7 404.0 396.0 C407.0 396.3 410.0 398.7 408.0 400.0 C406.0 401.3 397.0 403.0 392.0 404.0 C387.0 405.0 380.7 406.3 378.0 406.0 C375.3 405.7 374.0 403.3 376.0 402.0Z" fill="#8a7c28" />
<path d="M400.0 368.0 C401.7 368.7 406.7 371.3 410.0 372.0 C413.3 372.7 416.7 372.5 420.0 372.0 C423.3 371.5 427.0 369.5 430.0 369.0 C433.0 368.5 436.7 369.0 438.0 369.0" fill="none" stroke="#5f5146" stroke-width="6.5" stroke-linecap="round" stroke-linejoin="round" />
<path d="M418.0 364.0 C419.0 365.2 422.5 368.7 424.0 371.0 C425.5 373.3 426.5 376.8 427.0 378.0" fill="none" stroke="#4a3e34" stroke-width="5.0" stroke-linecap="round" stroke-linejoin="round" />
<g transform="translate(131.7 97.0) rotate(10)"><ellipse rx="7.6" ry="4.5" fill="#e23a72"/><ellipse cx="0.3" cy="-0.4" rx="5.5" ry="2.8" fill="#f07a9c"/><ellipse cx="0" cy="0" rx="2.7" ry="1.3" fill="#ea5a88"/></g>
<g transform="translate(150.7 105.2) rotate(0) scale(1.00 0.74)"><polygon points="7.7,1.6 4.0,2.0 5.9,5.2 2.5,3.8 2.5,7.4 0.3,4.5 -1.6,7.7 -2.0,4.0 -5.2,5.9 -3.8,2.5 -7.4,2.5 -4.5,0.3 -7.7,-1.6 -4.0,-2.0 -5.9,-5.2 -2.5,-3.8 -2.5,-7.4 -0.3,-4.5 1.6,-7.7 2.0,-4.0 5.2,-5.9 3.8,-2.5 7.4,-2.5 4.5,-0.3" fill="#46b468"/><circle r="4.6" fill="#63cf86"/><circle r="2.3" cx="-0.3" cy="-0.3" fill="#7edb9c"/></g>
<g transform="translate(133.5 113.0) rotate(3)"><ellipse rx="8.0" ry="4.6" fill="#2f4cc0"/><ellipse rx="5.6" ry="2.9" fill="#3d5fd2"/></g>
<g transform="translate(178.0 94.7) rotate(10)"><ellipse rx="7.6" ry="4.5" fill="#e23a72"/><ellipse cx="0.3" cy="-0.4" rx="5.5" ry="2.8" fill="#f07a9c"/><ellipse cx="0" cy="0" rx="2.7" ry="1.3" fill="#ea5a88"/></g>
<g transform="translate(197.0 103.0) rotate(0) scale(1.00 0.74)"><polygon points="7.7,1.6 4.0,2.0 5.9,5.2 2.5,3.8 2.5,7.4 0.3,4.5 -1.6,7.7 -2.0,4.0 -5.2,5.9 -3.8,2.5 -7.4,2.5 -4.5,0.3 -7.7,-1.6 -4.0,-2.0 -5.9,-5.2 -2.5,-3.8 -2.5,-7.4 -0.3,-4.5 1.6,-7.7 2.0,-4.0 5.2,-5.9 3.8,-2.5 7.4,-2.5 4.5,-0.3" fill="#46b468"/><circle r="4.6" fill="#63cf86"/><circle r="2.3" cx="-0.3" cy="-0.3" fill="#7edb9c"/></g>
<g transform="translate(180.0 110.6) rotate(3)"><ellipse rx="8.0" ry="4.6" fill="#2f4cc0"/><ellipse rx="5.6" ry="2.9" fill="#3d5fd2"/></g>
<g transform="translate(157.5 118.7) rotate(10)"><ellipse rx="7.6" ry="4.5" fill="#e23a72"/><ellipse cx="0.3" cy="-0.4" rx="5.5" ry="2.8" fill="#f07a9c"/><ellipse cx="0" cy="0" rx="2.7" ry="1.3" fill="#ea5a88"/></g>
<g transform="translate(176.5 127.2) rotate(0) scale(1.00 0.74)"><polygon points="7.7,1.6 4.0,2.0 5.9,5.2 2.5,3.8 2.5,7.4 0.3,4.5 -1.6,7.7 -2.0,4.0 -5.2,5.9 -3.8,2.5 -7.4,2.5 -4.5,0.3 -7.7,-1.6 -4.0,-2.0 -5.9,-5.2 -2.5,-3.8 -2.5,-7.4 -0.3,-4.5 1.6,-7.7 2.0,-4.0 5.2,-5.9 3.8,-2.5 7.4,-2.5 4.5,-0.3" fill="#46b468"/><circle r="4.6" fill="#63cf86"/><circle r="2.3" cx="-0.3" cy="-0.3" fill="#7edb9c"/></g>
<g transform="translate(159.2 134.6) rotate(3)"><ellipse rx="8.0" ry="4.6" fill="#2f4cc0"/><ellipse rx="5.6" ry="2.9" fill="#3d5fd2"/></g>
<g transform="translate(511.2 131.3) rotate(10)"><ellipse rx="7.6" ry="4.5" fill="#e23a72"/><ellipse cx="0.3" cy="-0.4" rx="5.5" ry="2.8" fill="#f07a9c"/><ellipse cx="0" cy="0" rx="2.7" ry="1.3" fill="#ea5a88"/></g>
<g transform="translate(530.5 139.5) rotate(0) scale(1.00 0.74)"><polygon points="7.7,1.6 4.0,2.0 5.9,5.2 2.5,3.8 2.5,7.4 0.3,4.5 -1.6,7.7 -2.0,4.0 -5.2,5.9 -3.8,2.5 -7.4,2.5 -4.5,0.3 -7.7,-1.6 -4.0,-2.0 -5.9,-5.2 -2.5,-3.8 -2.5,-7.4 -0.3,-4.5 1.6,-7.7 2.0,-4.0 5.2,-5.9 3.8,-2.5 7.4,-2.5 4.5,-0.3" fill="#46b468"/><circle r="4.6" fill="#63cf86"/><circle r="2.3" cx="-0.3" cy="-0.3" fill="#7edb9c"/></g>
<g transform="translate(513.0 147.0) rotate(0)"><ellipse rx="8.0" ry="4.6" fill="#2f4cc0"/><ellipse rx="5.6" ry="2.9" fill="#3d5fd2"/></g>
<g transform="translate(481.2 152.0) rotate(10)"><ellipse rx="7.6" ry="4.5" fill="#e23a72"/><ellipse cx="0.3" cy="-0.4" rx="5.5" ry="2.8" fill="#f07a9c"/><ellipse cx="0" cy="0" rx="2.7" ry="1.3" fill="#ea5a88"/></g>
<g transform="translate(500.0 160.0) rotate(0) scale(1.00 0.74)"><polygon points="7.7,1.6 4.0,2.0 5.9,5.2 2.5,3.8 2.5,7.4 0.3,4.5 -1.6,7.7 -2.0,4.0 -5.2,5.9 -3.8,2.5 -7.4,2.5 -4.5,0.3 -7.7,-1.6 -4.0,-2.0 -5.9,-5.2 -2.5,-3.8 -2.5,-7.4 -0.3,-4.5 1.6,-7.7 2.0,-4.0 5.2,-5.9 3.8,-2.5 7.4,-2.5 4.5,-0.3" fill="#46b468"/><circle r="4.6" fill="#63cf86"/><circle r="2.3" cx="-0.3" cy="-0.3" fill="#7edb9c"/></g>
<g transform="translate(483.3 168.0) rotate(3)"><ellipse rx="8.0" ry="4.6" fill="#2f4cc0"/><ellipse rx="5.6" ry="2.9" fill="#3d5fd2"/></g>
<g transform="translate(382.0 378.0) rotate(0) scale(0.80 1.10)"><polygon points="6.3,1.3 3.3,1.7 4.8,4.3 2.1,3.1 2.1,6.1 0.2,3.7 -1.3,6.3 -1.7,3.3 -4.3,4.8 -3.1,2.1 -6.1,2.1 -3.7,0.2 -6.3,-1.3 -3.3,-1.7 -4.8,-4.3 -2.1,-3.1 -2.1,-6.1 -0.2,-3.7 1.3,-6.3 1.7,-3.3 4.3,-4.8 3.1,-2.1 6.1,-2.1 3.7,-0.2" fill="#46b468"/><circle r="3.8" fill="#63cf86"/><circle r="1.9" cx="-0.3" cy="-0.3" fill="#7edb9c"/></g>
<g transform="translate(372.5 396.4) rotate(-70)"><ellipse rx="7.0" ry="3.6" fill="#e23a72"/><ellipse cx="0.3" cy="-0.4" rx="5.0" ry="2.2" fill="#f07a9c"/><ellipse cx="0" cy="0" rx="2.4" ry="1.1" fill="#ea5a88"/></g>
<g transform="translate(388.6 395.9) rotate(-85)"><ellipse rx="7.4" ry="4.2" fill="#2f4cc0"/><ellipse rx="5.2" ry="2.6" fill="#3d5fd2"/></g>
<g transform="translate(404.0 387.6) rotate(10)"><ellipse rx="7.3" ry="3.7" fill="#e23a72"/><ellipse cx="0.3" cy="-0.4" rx="5.3" ry="2.3" fill="#f07a9c"/><ellipse cx="0" cy="0" rx="2.6" ry="1.1" fill="#ea5a88"/></g>
<g transform="translate(405.0 403.4) rotate(0)"><ellipse rx="7.4" ry="3.9" fill="#2f4cc0"/><ellipse rx="5.2" ry="2.4" fill="#3d5fd2"/></g>
<g transform="translate(422.0 396.4) rotate(0) scale(1.00 0.80)"><polygon points="7.2,1.5 3.8,1.9 5.5,4.8 2.3,3.5 2.3,6.9 0.3,4.2 -1.5,7.2 -1.9,3.8 -4.8,5.5 -3.5,2.3 -6.9,2.3 -4.2,0.3 -7.2,-1.5 -3.8,-1.9 -5.5,-4.8 -2.3,-3.5 -2.3,-6.9 -0.3,-4.2 1.5,-7.2 1.9,-3.8 4.8,-5.5 3.5,-2.3 6.9,-2.3 4.2,-0.3" fill="#46b468"/><circle r="4.3" fill="#63cf86"/><circle r="2.1" cx="-0.3" cy="-0.3" fill="#7edb9c"/></g>
<line x1="512.5" y1="59" x2="494" y2="151.5" stroke="#0a0a0a" stroke-width="1.5"/>
<circle cx="493.8" cy="152.3" r="2.3" fill="#0a0a0a"/>
</svg>
<div class="lbl" style="left:129.4px;top:23.6px;">Filosfera</div>
<div class="lbl" style="left:472.8px;top:37.8px;">Endosfera</div>
<div class="lbl" style="left:246px;top:377.2px;">Rizósfera</div>
</body></html>
